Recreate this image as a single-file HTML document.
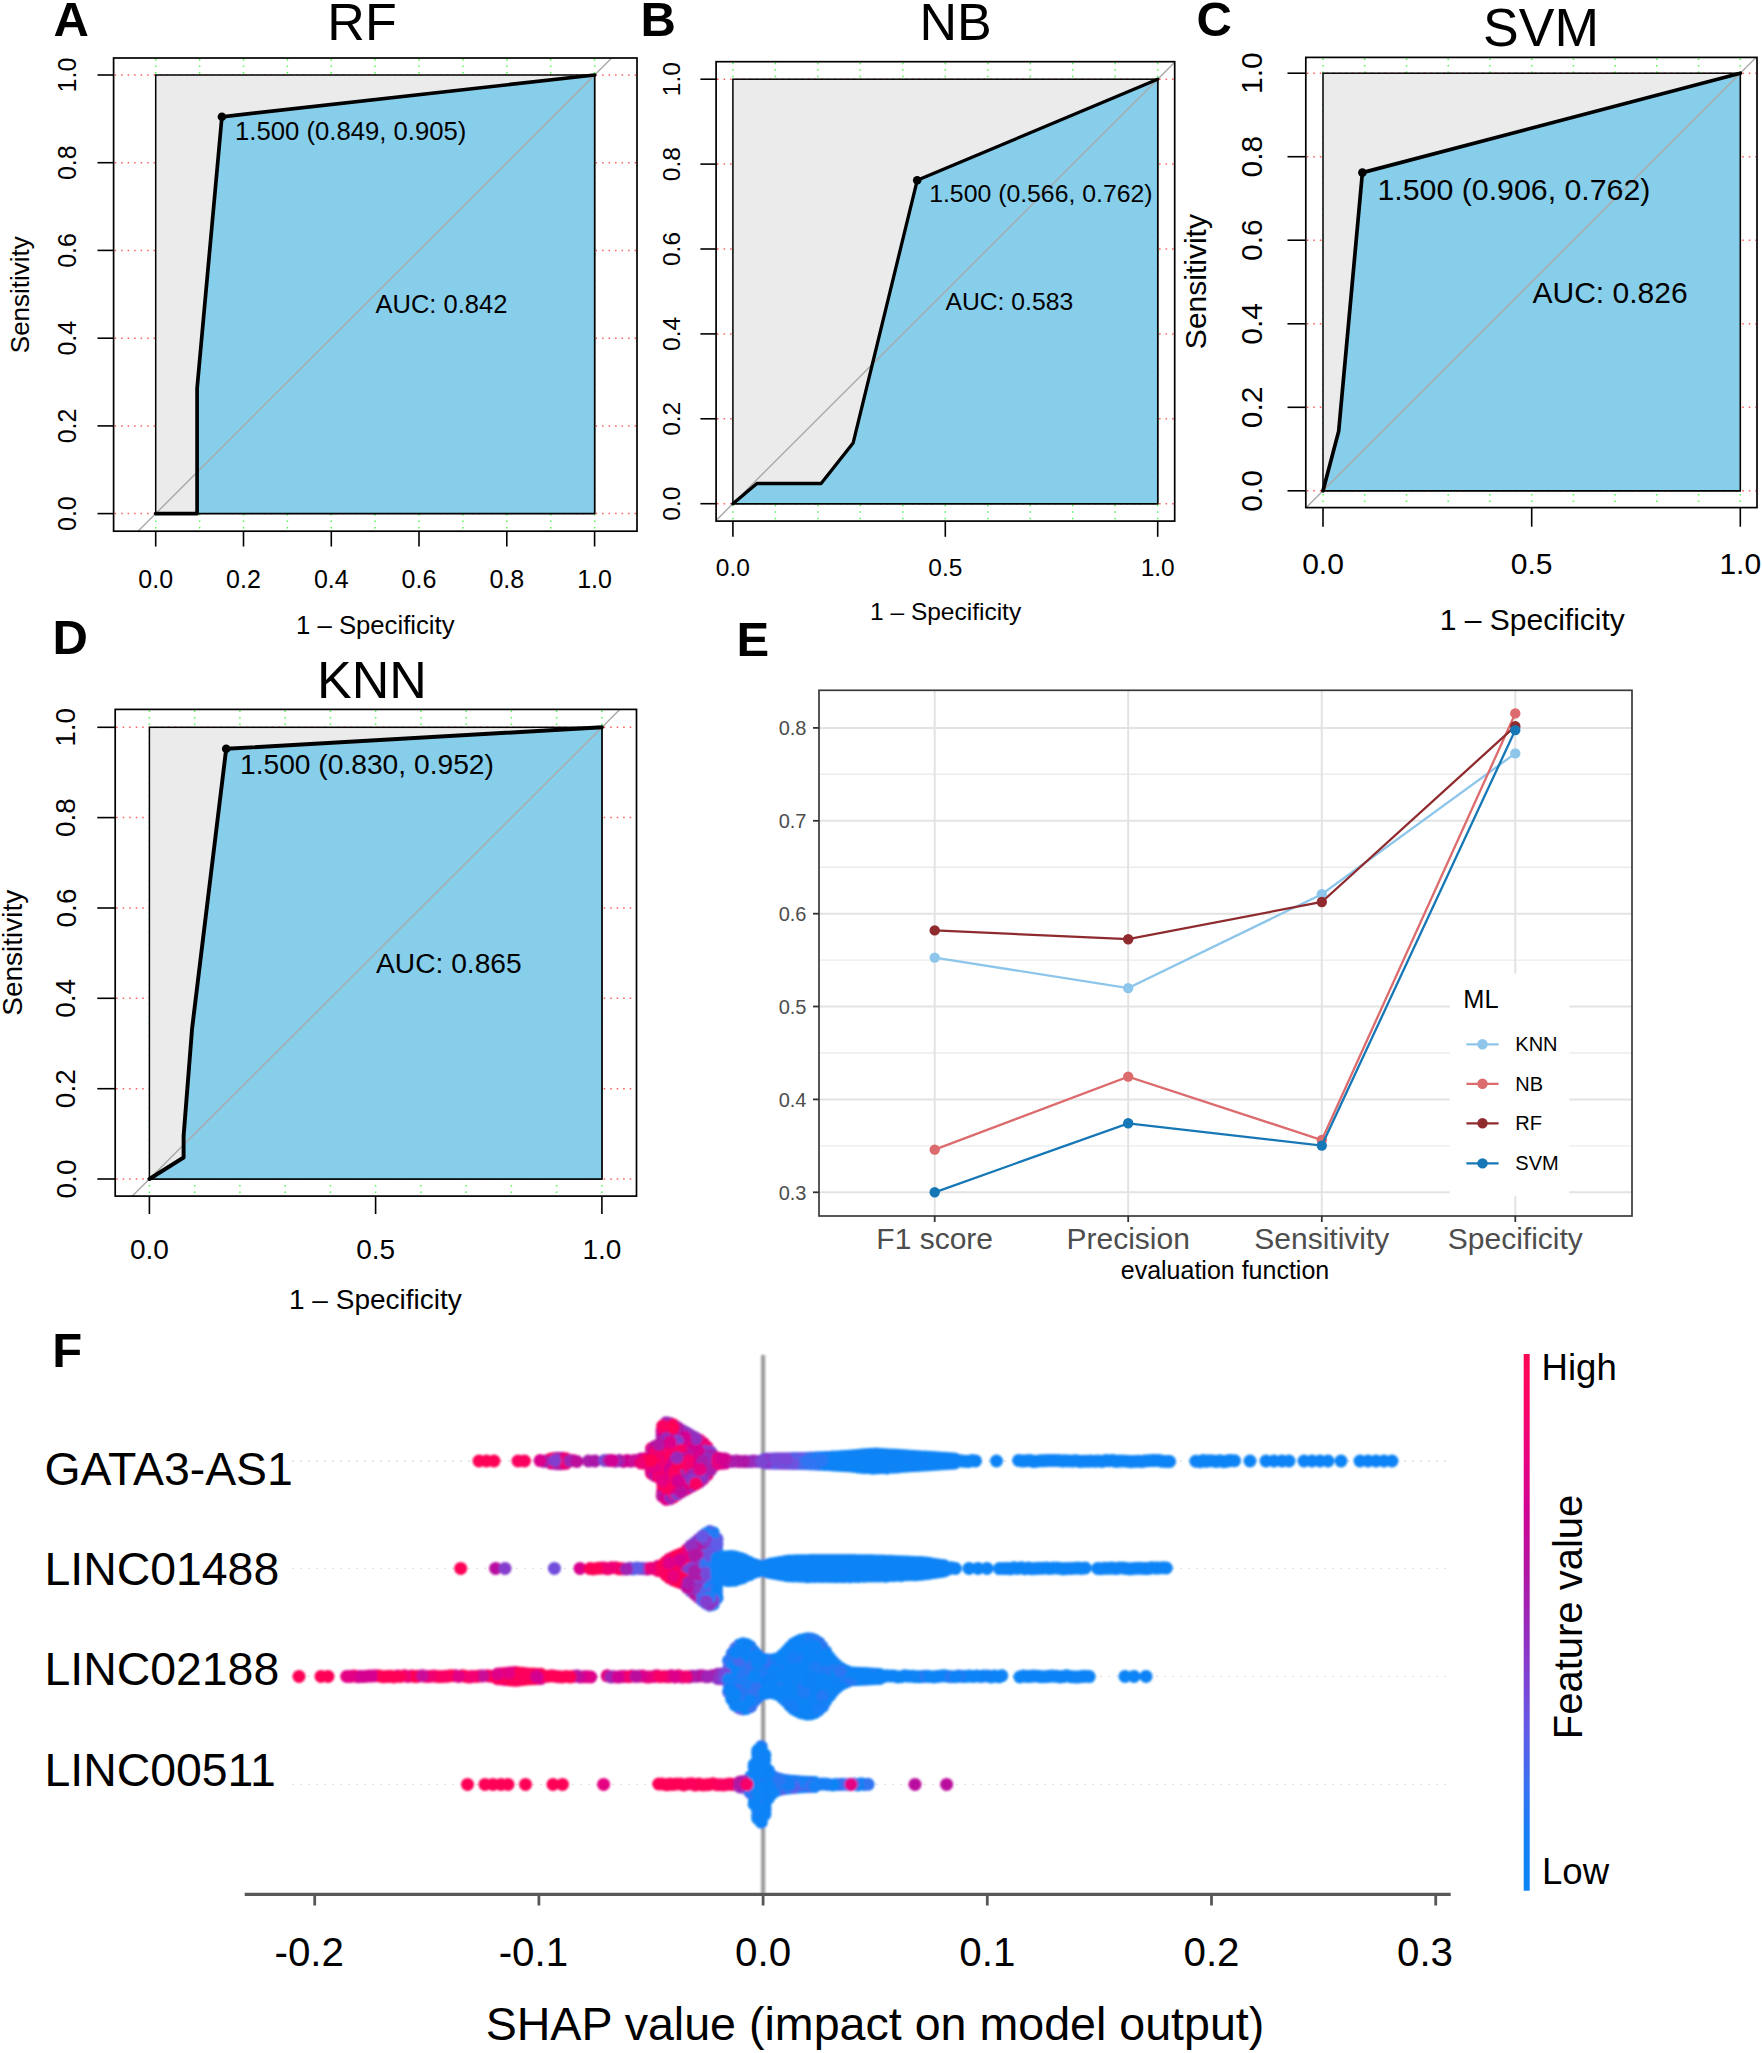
<!DOCTYPE html>
<html lang="en"><head><meta charset="utf-8"><title>Figure</title>
<style>
html,body{margin:0;padding:0;background:#fff;}
body{width:1762px;height:2053px;overflow:hidden;}
svg{display:block;font-family:'Liberation Sans', Arial, Helvetica, sans-serif;}
</style></head><body>
<svg width="1762" height="2053" viewBox="0 0 1762 2053">
<rect width="1762" height="2053" fill="#fff"/>
<text x="53.4" y="36.2" font-size="49" font-weight="bold" fill="#000">A</text>
<text x="640.5" y="36.2" font-size="49" font-weight="bold" fill="#000">B</text>
<text x="1196.5" y="36.2" font-size="49" font-weight="bold" fill="#000">C</text>
<text x="52.5" y="654.0" font-size="49" font-weight="bold" fill="#000">D</text>
<text x="736.5" y="656.0" font-size="49" font-weight="bold" fill="#000">E</text>
<text x="52.2" y="1367.4" font-size="49" font-weight="bold" fill="#000">F</text>
<g id="pA">
<clipPath id="cpA"><rect x="113.6" y="58.0" width="523.4" height="473.20000000000005"/></clipPath>
<line x1="114.6" y1="513.6" x2="636.0" y2="513.6" stroke="#ff5c5c" stroke-width="1.5" stroke-dasharray="1.5 5"/>
<line x1="114.6" y1="425.9" x2="636.0" y2="425.9" stroke="#ff5c5c" stroke-width="1.5" stroke-dasharray="1.5 5"/>
<line x1="114.6" y1="338.2" x2="636.0" y2="338.2" stroke="#ff5c5c" stroke-width="1.5" stroke-dasharray="1.5 5"/>
<line x1="114.6" y1="250.4" x2="636.0" y2="250.4" stroke="#ff5c5c" stroke-width="1.5" stroke-dasharray="1.5 5"/>
<line x1="114.6" y1="162.7" x2="636.0" y2="162.7" stroke="#ff5c5c" stroke-width="1.5" stroke-dasharray="1.5 5"/>
<line x1="114.6" y1="75.0" x2="636.0" y2="75.0" stroke="#ff5c5c" stroke-width="1.5" stroke-dasharray="1.5 5"/>
<line x1="155.7" y1="59.0" x2="155.7" y2="530.2" stroke="#55f755" stroke-width="1.5" stroke-dasharray="1.5 5"/>
<line x1="199.6" y1="59.0" x2="199.6" y2="530.2" stroke="#55f755" stroke-width="1.5" stroke-dasharray="1.5 5"/>
<line x1="243.5" y1="59.0" x2="243.5" y2="530.2" stroke="#55f755" stroke-width="1.5" stroke-dasharray="1.5 5"/>
<line x1="287.4" y1="59.0" x2="287.4" y2="530.2" stroke="#55f755" stroke-width="1.5" stroke-dasharray="1.5 5"/>
<line x1="331.3" y1="59.0" x2="331.3" y2="530.2" stroke="#55f755" stroke-width="1.5" stroke-dasharray="1.5 5"/>
<line x1="375.1" y1="59.0" x2="375.1" y2="530.2" stroke="#55f755" stroke-width="1.5" stroke-dasharray="1.5 5"/>
<line x1="419.0" y1="59.0" x2="419.0" y2="530.2" stroke="#55f755" stroke-width="1.5" stroke-dasharray="1.5 5"/>
<line x1="462.9" y1="59.0" x2="462.9" y2="530.2" stroke="#55f755" stroke-width="1.5" stroke-dasharray="1.5 5"/>
<line x1="506.8" y1="59.0" x2="506.8" y2="530.2" stroke="#55f755" stroke-width="1.5" stroke-dasharray="1.5 5"/>
<line x1="550.7" y1="59.0" x2="550.7" y2="530.2" stroke="#55f755" stroke-width="1.5" stroke-dasharray="1.5 5"/>
<line x1="594.6" y1="59.0" x2="594.6" y2="530.2" stroke="#55f755" stroke-width="1.5" stroke-dasharray="1.5 5"/>
<rect x="155.7" y="75.0" width="438.9" height="438.6" fill="#ebebeb" stroke="#000" stroke-width="1.5"/>
<polygon points="155.7,513.6 197.1,513.6 197.1,388.3 221.9,116.8 594.6,75.0 594.6,513.6" fill="#87ceeb" stroke="#000" stroke-width="1.5" stroke-linejoin="round"/>
<line x1="67.9" y1="601.3" x2="682.4" y2="-12.7" stroke="#a9a9a9" stroke-width="1.4" clip-path="url(#cpA)"/>
<polyline points="155.7,513.6 197.1,513.6 197.1,388.3 221.9,116.8 594.6,75.0" fill="none" stroke="#000" stroke-width="3.7" stroke-linejoin="round" stroke-linecap="round"/>
<circle cx="221.9" cy="116.8" r="4.3" fill="#000"/>
<rect x="113.6" y="58.0" width="523.4" height="473.2" fill="none" stroke="#000" stroke-width="1.7"/>
<line x1="97.5" y1="513.6" x2="113.6" y2="513.6" stroke="#000" stroke-width="1.6"/>
<text x="76.2" y="513.6" font-size="25" text-anchor="middle" fill="#000" transform="rotate(-90 76.2 513.6)">0.0</text>
<line x1="97.5" y1="425.9" x2="113.6" y2="425.9" stroke="#000" stroke-width="1.6"/>
<text x="76.2" y="425.9" font-size="25" text-anchor="middle" fill="#000" transform="rotate(-90 76.2 425.9)">0.2</text>
<line x1="97.5" y1="338.2" x2="113.6" y2="338.2" stroke="#000" stroke-width="1.6"/>
<text x="76.2" y="338.2" font-size="25" text-anchor="middle" fill="#000" transform="rotate(-90 76.2 338.2)">0.4</text>
<line x1="97.5" y1="250.4" x2="113.6" y2="250.4" stroke="#000" stroke-width="1.6"/>
<text x="76.2" y="250.4" font-size="25" text-anchor="middle" fill="#000" transform="rotate(-90 76.2 250.4)">0.6</text>
<line x1="97.5" y1="162.7" x2="113.6" y2="162.7" stroke="#000" stroke-width="1.6"/>
<text x="76.2" y="162.7" font-size="25" text-anchor="middle" fill="#000" transform="rotate(-90 76.2 162.7)">0.8</text>
<line x1="97.5" y1="75.0" x2="113.6" y2="75.0" stroke="#000" stroke-width="1.6"/>
<text x="76.2" y="75.0" font-size="25" text-anchor="middle" fill="#000" transform="rotate(-90 76.2 75.0)">1.0</text>
<line x1="155.7" y1="531.2" x2="155.7" y2="546.5" stroke="#000" stroke-width="1.6"/>
<text x="155.7" y="588.0" font-size="25" text-anchor="middle" fill="#000">0.0</text>
<line x1="243.5" y1="531.2" x2="243.5" y2="546.5" stroke="#000" stroke-width="1.6"/>
<text x="243.5" y="588.0" font-size="25" text-anchor="middle" fill="#000">0.2</text>
<line x1="331.3" y1="531.2" x2="331.3" y2="546.5" stroke="#000" stroke-width="1.6"/>
<text x="331.3" y="588.0" font-size="25" text-anchor="middle" fill="#000">0.4</text>
<line x1="419.0" y1="531.2" x2="419.0" y2="546.5" stroke="#000" stroke-width="1.6"/>
<text x="419.0" y="588.0" font-size="25" text-anchor="middle" fill="#000">0.6</text>
<line x1="506.8" y1="531.2" x2="506.8" y2="546.5" stroke="#000" stroke-width="1.6"/>
<text x="506.8" y="588.0" font-size="25" text-anchor="middle" fill="#000">0.8</text>
<line x1="594.6" y1="531.2" x2="594.6" y2="546.5" stroke="#000" stroke-width="1.6"/>
<text x="594.6" y="588.0" font-size="25" text-anchor="middle" fill="#000">1.0</text>
<text x="375.3" y="633.6" font-size="25.7" text-anchor="middle" fill="#000">1 – Specificity</text>
<text x="29.5" y="294.7" font-size="26" text-anchor="middle" fill="#000" transform="rotate(-90 29.5 294.7)">Sensitivity</text>
<text x="362.0" y="40.0" font-size="52" text-anchor="middle" fill="#000">RF</text>
<text x="235.0" y="139.8" font-size="25.7" fill="#000">1.500 (0.849, 0.905)</text>
<text x="375.5" y="312.6" font-size="25.5" fill="#000">AUC: 0.842</text>
</g>
<g id="pB">
<clipPath id="cpB"><rect x="716.1" y="61.7" width="458.6" height="459.40000000000003"/></clipPath>
<line x1="717.1" y1="503.7" x2="1173.7" y2="503.7" stroke="#ff5c5c" stroke-width="1.5" stroke-dasharray="1.5 5"/>
<line x1="717.1" y1="418.8" x2="1173.7" y2="418.8" stroke="#ff5c5c" stroke-width="1.5" stroke-dasharray="1.5 5"/>
<line x1="717.1" y1="333.9" x2="1173.7" y2="333.9" stroke="#ff5c5c" stroke-width="1.5" stroke-dasharray="1.5 5"/>
<line x1="717.1" y1="249.0" x2="1173.7" y2="249.0" stroke="#ff5c5c" stroke-width="1.5" stroke-dasharray="1.5 5"/>
<line x1="717.1" y1="164.1" x2="1173.7" y2="164.1" stroke="#ff5c5c" stroke-width="1.5" stroke-dasharray="1.5 5"/>
<line x1="717.1" y1="79.2" x2="1173.7" y2="79.2" stroke="#ff5c5c" stroke-width="1.5" stroke-dasharray="1.5 5"/>
<line x1="732.9" y1="62.7" x2="732.9" y2="520.1" stroke="#55f755" stroke-width="1.5" stroke-dasharray="1.5 5"/>
<line x1="775.4" y1="62.7" x2="775.4" y2="520.1" stroke="#55f755" stroke-width="1.5" stroke-dasharray="1.5 5"/>
<line x1="817.9" y1="62.7" x2="817.9" y2="520.1" stroke="#55f755" stroke-width="1.5" stroke-dasharray="1.5 5"/>
<line x1="860.3" y1="62.7" x2="860.3" y2="520.1" stroke="#55f755" stroke-width="1.5" stroke-dasharray="1.5 5"/>
<line x1="902.8" y1="62.7" x2="902.8" y2="520.1" stroke="#55f755" stroke-width="1.5" stroke-dasharray="1.5 5"/>
<line x1="945.3" y1="62.7" x2="945.3" y2="520.1" stroke="#55f755" stroke-width="1.5" stroke-dasharray="1.5 5"/>
<line x1="987.8" y1="62.7" x2="987.8" y2="520.1" stroke="#55f755" stroke-width="1.5" stroke-dasharray="1.5 5"/>
<line x1="1030.3" y1="62.7" x2="1030.3" y2="520.1" stroke="#55f755" stroke-width="1.5" stroke-dasharray="1.5 5"/>
<line x1="1072.7" y1="62.7" x2="1072.7" y2="520.1" stroke="#55f755" stroke-width="1.5" stroke-dasharray="1.5 5"/>
<line x1="1115.2" y1="62.7" x2="1115.2" y2="520.1" stroke="#55f755" stroke-width="1.5" stroke-dasharray="1.5 5"/>
<line x1="1157.7" y1="62.7" x2="1157.7" y2="520.1" stroke="#55f755" stroke-width="1.5" stroke-dasharray="1.5 5"/>
<rect x="732.9" y="79.2" width="424.8" height="424.5" fill="#ebebeb" stroke="#000" stroke-width="1.5"/>
<polygon points="732.9,503.7 756.9,483.5 821.1,483.5 853.1,443.1 917.2,180.3 1157.7,79.2 1157.7,503.7" fill="#87ceeb" stroke="#000" stroke-width="1.5" stroke-linejoin="round"/>
<line x1="647.9" y1="588.6" x2="1242.7" y2="-5.7" stroke="#a9a9a9" stroke-width="1.4" clip-path="url(#cpB)"/>
<polyline points="732.9,503.7 756.9,483.5 821.1,483.5 853.1,443.1 917.2,180.3 1157.7,79.2" fill="none" stroke="#000" stroke-width="3.3" stroke-linejoin="round" stroke-linecap="round"/>
<circle cx="917.2" cy="180.3" r="4.3" fill="#000"/>
<rect x="716.1" y="61.7" width="458.6" height="459.4" fill="none" stroke="#000" stroke-width="1.7"/>
<line x1="700.4" y1="503.7" x2="716.1" y2="503.7" stroke="#000" stroke-width="1.6"/>
<text x="680.0" y="503.7" font-size="24.5" text-anchor="middle" fill="#000" transform="rotate(-90 680.0 503.7)">0.0</text>
<line x1="700.4" y1="418.8" x2="716.1" y2="418.8" stroke="#000" stroke-width="1.6"/>
<text x="680.0" y="418.8" font-size="24.5" text-anchor="middle" fill="#000" transform="rotate(-90 680.0 418.8)">0.2</text>
<line x1="700.4" y1="333.9" x2="716.1" y2="333.9" stroke="#000" stroke-width="1.6"/>
<text x="680.0" y="333.9" font-size="24.5" text-anchor="middle" fill="#000" transform="rotate(-90 680.0 333.9)">0.4</text>
<line x1="700.4" y1="249.0" x2="716.1" y2="249.0" stroke="#000" stroke-width="1.6"/>
<text x="680.0" y="249.0" font-size="24.5" text-anchor="middle" fill="#000" transform="rotate(-90 680.0 249.0)">0.6</text>
<line x1="700.4" y1="164.1" x2="716.1" y2="164.1" stroke="#000" stroke-width="1.6"/>
<text x="680.0" y="164.1" font-size="24.5" text-anchor="middle" fill="#000" transform="rotate(-90 680.0 164.1)">0.8</text>
<line x1="700.4" y1="79.2" x2="716.1" y2="79.2" stroke="#000" stroke-width="1.6"/>
<text x="680.0" y="79.2" font-size="24.5" text-anchor="middle" fill="#000" transform="rotate(-90 680.0 79.2)">1.0</text>
<line x1="732.9" y1="521.1" x2="732.9" y2="536.8" stroke="#000" stroke-width="1.6"/>
<text x="732.9" y="576.0" font-size="24.5" text-anchor="middle" fill="#000">0.0</text>
<line x1="945.3" y1="521.1" x2="945.3" y2="536.8" stroke="#000" stroke-width="1.6"/>
<text x="945.3" y="576.0" font-size="24.5" text-anchor="middle" fill="#000">0.5</text>
<line x1="1157.7" y1="521.1" x2="1157.7" y2="536.8" stroke="#000" stroke-width="1.6"/>
<text x="1157.7" y="576.0" font-size="24.5" text-anchor="middle" fill="#000">1.0</text>
<text x="945.6" y="620.2" font-size="24.5" text-anchor="middle" fill="#000">1 – Specificity</text>
<text x="955.5" y="40.0" font-size="52" text-anchor="middle" fill="#000">NB</text>
<text x="929.2" y="201.8" font-size="24.8" fill="#000">1.500 (0.566, 0.762)</text>
<text x="945.5" y="309.6" font-size="24.7" fill="#000">AUC: 0.583</text>
</g>
<g id="pC">
<clipPath id="cpC"><rect x="1305.8" y="57.4" width="451.20000000000005" height="450.20000000000005"/></clipPath>
<line x1="1306.8" y1="490.8" x2="1756.0" y2="490.8" stroke="#ff5c5c" stroke-width="1.5" stroke-dasharray="1.5 5"/>
<line x1="1306.8" y1="407.3" x2="1756.0" y2="407.3" stroke="#ff5c5c" stroke-width="1.5" stroke-dasharray="1.5 5"/>
<line x1="1306.8" y1="323.8" x2="1756.0" y2="323.8" stroke="#ff5c5c" stroke-width="1.5" stroke-dasharray="1.5 5"/>
<line x1="1306.8" y1="240.2" x2="1756.0" y2="240.2" stroke="#ff5c5c" stroke-width="1.5" stroke-dasharray="1.5 5"/>
<line x1="1306.8" y1="156.7" x2="1756.0" y2="156.7" stroke="#ff5c5c" stroke-width="1.5" stroke-dasharray="1.5 5"/>
<line x1="1306.8" y1="73.2" x2="1756.0" y2="73.2" stroke="#ff5c5c" stroke-width="1.5" stroke-dasharray="1.5 5"/>
<line x1="1323.0" y1="58.4" x2="1323.0" y2="506.6" stroke="#55f755" stroke-width="1.5" stroke-dasharray="1.5 5"/>
<line x1="1364.7" y1="58.4" x2="1364.7" y2="506.6" stroke="#55f755" stroke-width="1.5" stroke-dasharray="1.5 5"/>
<line x1="1406.5" y1="58.4" x2="1406.5" y2="506.6" stroke="#55f755" stroke-width="1.5" stroke-dasharray="1.5 5"/>
<line x1="1448.2" y1="58.4" x2="1448.2" y2="506.6" stroke="#55f755" stroke-width="1.5" stroke-dasharray="1.5 5"/>
<line x1="1489.9" y1="58.4" x2="1489.9" y2="506.6" stroke="#55f755" stroke-width="1.5" stroke-dasharray="1.5 5"/>
<line x1="1531.7" y1="58.4" x2="1531.7" y2="506.6" stroke="#55f755" stroke-width="1.5" stroke-dasharray="1.5 5"/>
<line x1="1573.4" y1="58.4" x2="1573.4" y2="506.6" stroke="#55f755" stroke-width="1.5" stroke-dasharray="1.5 5"/>
<line x1="1615.1" y1="58.4" x2="1615.1" y2="506.6" stroke="#55f755" stroke-width="1.5" stroke-dasharray="1.5 5"/>
<line x1="1656.8" y1="58.4" x2="1656.8" y2="506.6" stroke="#55f755" stroke-width="1.5" stroke-dasharray="1.5 5"/>
<line x1="1698.6" y1="58.4" x2="1698.6" y2="506.6" stroke="#55f755" stroke-width="1.5" stroke-dasharray="1.5 5"/>
<line x1="1740.3" y1="58.4" x2="1740.3" y2="506.6" stroke="#55f755" stroke-width="1.5" stroke-dasharray="1.5 5"/>
<rect x="1323.0" y="73.2" width="417.3" height="417.6" fill="#ebebeb" stroke="#000" stroke-width="1.5"/>
<polygon points="1323.0,490.8 1338.7,431.1 1362.4,172.6 1740.3,73.2 1740.3,490.8" fill="#87ceeb" stroke="#000" stroke-width="1.5" stroke-linejoin="round"/>
<line x1="1239.5" y1="574.3" x2="1823.8" y2="-10.3" stroke="#a9a9a9" stroke-width="1.4" clip-path="url(#cpC)"/>
<polyline points="1323.0,490.8 1338.7,431.1 1362.4,172.6 1740.3,73.2" fill="none" stroke="#000" stroke-width="3.7" stroke-linejoin="round" stroke-linecap="round"/>
<circle cx="1362.4" cy="172.6" r="4.3" fill="#000"/>
<rect x="1305.8" y="57.4" width="451.2" height="450.2" fill="none" stroke="#000" stroke-width="1.7"/>
<line x1="1287.5" y1="490.8" x2="1305.8" y2="490.8" stroke="#000" stroke-width="1.6"/>
<text x="1262.0" y="490.8" font-size="30" text-anchor="middle" fill="#000" transform="rotate(-90 1262.0 490.8)">0.0</text>
<line x1="1287.5" y1="407.3" x2="1305.8" y2="407.3" stroke="#000" stroke-width="1.6"/>
<text x="1262.0" y="407.3" font-size="30" text-anchor="middle" fill="#000" transform="rotate(-90 1262.0 407.3)">0.2</text>
<line x1="1287.5" y1="323.8" x2="1305.8" y2="323.8" stroke="#000" stroke-width="1.6"/>
<text x="1262.0" y="323.8" font-size="30" text-anchor="middle" fill="#000" transform="rotate(-90 1262.0 323.8)">0.4</text>
<line x1="1287.5" y1="240.2" x2="1305.8" y2="240.2" stroke="#000" stroke-width="1.6"/>
<text x="1262.0" y="240.2" font-size="30" text-anchor="middle" fill="#000" transform="rotate(-90 1262.0 240.2)">0.6</text>
<line x1="1287.5" y1="156.7" x2="1305.8" y2="156.7" stroke="#000" stroke-width="1.6"/>
<text x="1262.0" y="156.7" font-size="30" text-anchor="middle" fill="#000" transform="rotate(-90 1262.0 156.7)">0.8</text>
<line x1="1287.5" y1="73.2" x2="1305.8" y2="73.2" stroke="#000" stroke-width="1.6"/>
<text x="1262.0" y="73.2" font-size="30" text-anchor="middle" fill="#000" transform="rotate(-90 1262.0 73.2)">1.0</text>
<line x1="1323.0" y1="507.6" x2="1323.0" y2="526.7" stroke="#000" stroke-width="1.6"/>
<text x="1323.0" y="573.7" font-size="30" text-anchor="middle" fill="#000">0.0</text>
<line x1="1531.7" y1="507.6" x2="1531.7" y2="526.7" stroke="#000" stroke-width="1.6"/>
<text x="1531.7" y="573.7" font-size="30" text-anchor="middle" fill="#000">0.5</text>
<line x1="1740.3" y1="507.6" x2="1740.3" y2="526.7" stroke="#000" stroke-width="1.6"/>
<text x="1740.3" y="573.7" font-size="30" text-anchor="middle" fill="#000">1.0</text>
<text x="1532.3" y="629.9" font-size="30" text-anchor="middle" fill="#000">1 – Specificity</text>
<text x="1206.0" y="281.6" font-size="30" text-anchor="middle" fill="#000" transform="rotate(-90 1206.0 281.6)">Sensitivity</text>
<text x="1541.0" y="46.3" font-size="53.5" text-anchor="middle" fill="#000">SVM</text>
<text x="1377.5" y="199.8" font-size="30.3" fill="#000">1.500 (0.906, 0.762)</text>
<text x="1532.5" y="303.4" font-size="30" fill="#000">AUC: 0.826</text>
</g>
<g id="pD">
<clipPath id="cpD"><rect x="115.2" y="709.4" width="521.3" height="486.69999999999993"/></clipPath>
<line x1="116.2" y1="1179.0" x2="635.5" y2="1179.0" stroke="#ff5c5c" stroke-width="1.5" stroke-dasharray="1.5 5"/>
<line x1="116.2" y1="1088.7" x2="635.5" y2="1088.7" stroke="#ff5c5c" stroke-width="1.5" stroke-dasharray="1.5 5"/>
<line x1="116.2" y1="998.3" x2="635.5" y2="998.3" stroke="#ff5c5c" stroke-width="1.5" stroke-dasharray="1.5 5"/>
<line x1="116.2" y1="908.0" x2="635.5" y2="908.0" stroke="#ff5c5c" stroke-width="1.5" stroke-dasharray="1.5 5"/>
<line x1="116.2" y1="817.6" x2="635.5" y2="817.6" stroke="#ff5c5c" stroke-width="1.5" stroke-dasharray="1.5 5"/>
<line x1="116.2" y1="727.3" x2="635.5" y2="727.3" stroke="#ff5c5c" stroke-width="1.5" stroke-dasharray="1.5 5"/>
<line x1="149.4" y1="710.4" x2="149.4" y2="1195.1" stroke="#55f755" stroke-width="1.5" stroke-dasharray="1.5 5"/>
<line x1="194.7" y1="710.4" x2="194.7" y2="1195.1" stroke="#55f755" stroke-width="1.5" stroke-dasharray="1.5 5"/>
<line x1="239.9" y1="710.4" x2="239.9" y2="1195.1" stroke="#55f755" stroke-width="1.5" stroke-dasharray="1.5 5"/>
<line x1="285.2" y1="710.4" x2="285.2" y2="1195.1" stroke="#55f755" stroke-width="1.5" stroke-dasharray="1.5 5"/>
<line x1="330.4" y1="710.4" x2="330.4" y2="1195.1" stroke="#55f755" stroke-width="1.5" stroke-dasharray="1.5 5"/>
<line x1="375.6" y1="710.4" x2="375.6" y2="1195.1" stroke="#55f755" stroke-width="1.5" stroke-dasharray="1.5 5"/>
<line x1="420.9" y1="710.4" x2="420.9" y2="1195.1" stroke="#55f755" stroke-width="1.5" stroke-dasharray="1.5 5"/>
<line x1="466.2" y1="710.4" x2="466.2" y2="1195.1" stroke="#55f755" stroke-width="1.5" stroke-dasharray="1.5 5"/>
<line x1="511.4" y1="710.4" x2="511.4" y2="1195.1" stroke="#55f755" stroke-width="1.5" stroke-dasharray="1.5 5"/>
<line x1="556.6" y1="710.4" x2="556.6" y2="1195.1" stroke="#55f755" stroke-width="1.5" stroke-dasharray="1.5 5"/>
<line x1="601.9" y1="710.4" x2="601.9" y2="1195.1" stroke="#55f755" stroke-width="1.5" stroke-dasharray="1.5 5"/>
<rect x="149.4" y="727.3" width="452.5" height="451.7" fill="#ebebeb" stroke="#000" stroke-width="1.5"/>
<polygon points="149.4,1179.0 183.6,1157.5 183.6,1136.0 192.1,1028.4 226.2,748.8 601.9,727.3 601.9,1179.0" fill="#87ceeb" stroke="#000" stroke-width="1.5" stroke-linejoin="round"/>
<line x1="58.9" y1="1269.3" x2="692.4" y2="637.0" stroke="#a9a9a9" stroke-width="1.4" clip-path="url(#cpD)"/>
<polyline points="149.4,1179.0 183.6,1157.5 183.6,1136.0 192.1,1028.4 226.2,748.8 601.9,727.3" fill="none" stroke="#000" stroke-width="3.9" stroke-linejoin="round" stroke-linecap="round"/>
<circle cx="226.2" cy="748.8" r="4.3" fill="#000"/>
<rect x="115.2" y="709.4" width="521.3" height="486.7" fill="none" stroke="#000" stroke-width="1.7"/>
<line x1="97.3" y1="1179.0" x2="115.2" y2="1179.0" stroke="#000" stroke-width="1.6"/>
<text x="75.5" y="1179.0" font-size="28" text-anchor="middle" fill="#000" transform="rotate(-90 75.5 1179.0)">0.0</text>
<line x1="97.3" y1="1088.7" x2="115.2" y2="1088.7" stroke="#000" stroke-width="1.6"/>
<text x="75.5" y="1088.7" font-size="28" text-anchor="middle" fill="#000" transform="rotate(-90 75.5 1088.7)">0.2</text>
<line x1="97.3" y1="998.3" x2="115.2" y2="998.3" stroke="#000" stroke-width="1.6"/>
<text x="75.5" y="998.3" font-size="28" text-anchor="middle" fill="#000" transform="rotate(-90 75.5 998.3)">0.4</text>
<line x1="97.3" y1="908.0" x2="115.2" y2="908.0" stroke="#000" stroke-width="1.6"/>
<text x="75.5" y="908.0" font-size="28" text-anchor="middle" fill="#000" transform="rotate(-90 75.5 908.0)">0.6</text>
<line x1="97.3" y1="817.6" x2="115.2" y2="817.6" stroke="#000" stroke-width="1.6"/>
<text x="75.5" y="817.6" font-size="28" text-anchor="middle" fill="#000" transform="rotate(-90 75.5 817.6)">0.8</text>
<line x1="97.3" y1="727.3" x2="115.2" y2="727.3" stroke="#000" stroke-width="1.6"/>
<text x="75.5" y="727.3" font-size="28" text-anchor="middle" fill="#000" transform="rotate(-90 75.5 727.3)">1.0</text>
<line x1="149.4" y1="1196.1" x2="149.4" y2="1214.0" stroke="#000" stroke-width="1.6"/>
<text x="149.4" y="1258.9" font-size="28" text-anchor="middle" fill="#000">0.0</text>
<line x1="375.6" y1="1196.1" x2="375.6" y2="1214.0" stroke="#000" stroke-width="1.6"/>
<text x="375.6" y="1258.9" font-size="28" text-anchor="middle" fill="#000">0.5</text>
<line x1="601.9" y1="1196.1" x2="601.9" y2="1214.0" stroke="#000" stroke-width="1.6"/>
<text x="601.9" y="1258.9" font-size="28" text-anchor="middle" fill="#000">1.0</text>
<text x="375.4" y="1309.3" font-size="28" text-anchor="middle" fill="#000">1 – Specificity</text>
<text x="22.0" y="952.7" font-size="28" text-anchor="middle" fill="#000" transform="rotate(-90 22.0 952.7)">Sensitivity</text>
<text x="371.9" y="697.5" font-size="52" text-anchor="middle" fill="#000">KNN</text>
<text x="240.0" y="774.2" font-size="28.2" fill="#000">1.500 (0.830, 0.952)</text>
<text x="376.0" y="972.8" font-size="28.2" fill="#000">AUC: 0.865</text>
</g>
<g id="pE">
<rect x="819" y="690.3" width="813" height="525.7" fill="#fff"/>
<line x1="819" y1="1145.9" x2="1632" y2="1145.9" stroke="#ebebeb" stroke-width="1.4"/>
<line x1="819" y1="1053.0" x2="1632" y2="1053.0" stroke="#ebebeb" stroke-width="1.4"/>
<line x1="819" y1="960.1" x2="1632" y2="960.1" stroke="#ebebeb" stroke-width="1.4"/>
<line x1="819" y1="867.2" x2="1632" y2="867.2" stroke="#ebebeb" stroke-width="1.4"/>
<line x1="819" y1="774.3" x2="1632" y2="774.3" stroke="#ebebeb" stroke-width="1.4"/>
<line x1="819" y1="1192.3" x2="1632" y2="1192.3" stroke="#e3e3e3" stroke-width="2"/>
<line x1="819" y1="1099.4" x2="1632" y2="1099.4" stroke="#e3e3e3" stroke-width="2"/>
<line x1="819" y1="1006.5" x2="1632" y2="1006.5" stroke="#e3e3e3" stroke-width="2"/>
<line x1="819" y1="913.7" x2="1632" y2="913.7" stroke="#e3e3e3" stroke-width="2"/>
<line x1="819" y1="820.8" x2="1632" y2="820.8" stroke="#e3e3e3" stroke-width="2"/>
<line x1="819" y1="727.9" x2="1632" y2="727.9" stroke="#e3e3e3" stroke-width="2"/>
<line x1="934.7" y1="690.3" x2="934.7" y2="1216" stroke="#e3e3e3" stroke-width="2"/>
<line x1="1128.2" y1="690.3" x2="1128.2" y2="1216" stroke="#e3e3e3" stroke-width="2"/>
<line x1="1321.8" y1="690.3" x2="1321.8" y2="1216" stroke="#e3e3e3" stroke-width="2"/>
<line x1="1515.3" y1="690.3" x2="1515.3" y2="1216" stroke="#e3e3e3" stroke-width="2"/>
<polyline points="934.7,957.6 1128.2,988.1 1321.8,894.2 1515.3,753.4" fill="none" stroke="#8dc6ea" stroke-width="2.3"/>
<circle cx="934.7" cy="957.6" r="5.2" fill="#8dc6ea"/>
<circle cx="1128.2" cy="988.1" r="5.2" fill="#8dc6ea"/>
<circle cx="1321.8" cy="894.2" r="5.2" fill="#8dc6ea"/>
<circle cx="1515.3" cy="753.4" r="5.2" fill="#8dc6ea"/>
<polyline points="934.7,1149.6 1128.2,1076.6 1321.8,1140.0 1515.3,713.4" fill="none" stroke="#dc6b6d" stroke-width="2.3"/>
<circle cx="934.7" cy="1149.6" r="5.2" fill="#dc6b6d"/>
<circle cx="1128.2" cy="1076.6" r="5.2" fill="#dc6b6d"/>
<circle cx="1321.8" cy="1140.0" r="5.2" fill="#dc6b6d"/>
<circle cx="1515.3" cy="713.4" r="5.2" fill="#dc6b6d"/>
<polyline points="934.7,930.4 1128.2,939.2 1321.8,902.0 1515.3,726.2" fill="none" stroke="#8f2b2e" stroke-width="2.3"/>
<circle cx="934.7" cy="930.4" r="5.2" fill="#8f2b2e"/>
<circle cx="1128.2" cy="939.2" r="5.2" fill="#8f2b2e"/>
<circle cx="1321.8" cy="902.0" r="5.2" fill="#8f2b2e"/>
<circle cx="1515.3" cy="726.2" r="5.2" fill="#8f2b2e"/>
<polyline points="934.7,1192.3 1128.2,1123.3 1321.8,1145.6 1515.3,730.1" fill="none" stroke="#1577b5" stroke-width="2.3"/>
<circle cx="934.7" cy="1192.3" r="5.2" fill="#1577b5"/>
<circle cx="1128.2" cy="1123.3" r="5.2" fill="#1577b5"/>
<circle cx="1321.8" cy="1145.6" r="5.2" fill="#1577b5"/>
<circle cx="1515.3" cy="730.1" r="5.2" fill="#1577b5"/>
<rect x="1449.7" y="973.7" width="119.6" height="222.5" fill="#fff"/>
<text x="1463.3" y="1008.2" font-size="25.4" fill="#000">ML</text>
<line x1="1466.4" y1="1044.3" x2="1498.6" y2="1044.3" stroke="#8dc6ea" stroke-width="2.3"/>
<circle cx="1482.5" cy="1044.3" r="5.2" fill="#8dc6ea"/>
<text x="1515.3" y="1051.3" font-size="20" fill="#000">KNN</text>
<line x1="1466.4" y1="1083.8" x2="1498.6" y2="1083.8" stroke="#dc6b6d" stroke-width="2.3"/>
<circle cx="1482.5" cy="1083.8" r="5.2" fill="#dc6b6d"/>
<text x="1515.3" y="1090.8" font-size="20" fill="#000">NB</text>
<line x1="1466.4" y1="1123.3" x2="1498.6" y2="1123.3" stroke="#8f2b2e" stroke-width="2.3"/>
<circle cx="1482.5" cy="1123.3" r="5.2" fill="#8f2b2e"/>
<text x="1515.3" y="1130.3" font-size="20" fill="#000">RF</text>
<line x1="1466.4" y1="1163.4" x2="1498.6" y2="1163.4" stroke="#1577b5" stroke-width="2.3"/>
<circle cx="1482.5" cy="1163.4" r="5.2" fill="#1577b5"/>
<text x="1515.3" y="1170.4" font-size="20" fill="#000">SVM</text>
<rect x="819" y="690.3" width="813" height="525.7" fill="none" stroke="#3a3a3a" stroke-width="1.7"/>
<line x1="813" y1="1192.3" x2="819" y2="1192.3" stroke="#333" stroke-width="1.8"/>
<text x="806.5" y="1199.5" font-size="20" text-anchor="end" fill="#4d4d4d">0.3</text>
<line x1="813" y1="1099.4" x2="819" y2="1099.4" stroke="#333" stroke-width="1.8"/>
<text x="806.5" y="1106.6" font-size="20" text-anchor="end" fill="#4d4d4d">0.4</text>
<line x1="813" y1="1006.5" x2="819" y2="1006.5" stroke="#333" stroke-width="1.8"/>
<text x="806.5" y="1013.7" font-size="20" text-anchor="end" fill="#4d4d4d">0.5</text>
<line x1="813" y1="913.7" x2="819" y2="913.7" stroke="#333" stroke-width="1.8"/>
<text x="806.5" y="920.9" font-size="20" text-anchor="end" fill="#4d4d4d">0.6</text>
<line x1="813" y1="820.8" x2="819" y2="820.8" stroke="#333" stroke-width="1.8"/>
<text x="806.5" y="828.0" font-size="20" text-anchor="end" fill="#4d4d4d">0.7</text>
<line x1="813" y1="727.9" x2="819" y2="727.9" stroke="#333" stroke-width="1.8"/>
<text x="806.5" y="735.1" font-size="20" text-anchor="end" fill="#4d4d4d">0.8</text>
<line x1="934.7" y1="1216" x2="934.7" y2="1222" stroke="#333" stroke-width="1.8"/>
<text x="934.7" y="1249.0" font-size="30" text-anchor="middle" fill="#4d4d4d">F1 score</text>
<line x1="1128.2" y1="1216" x2="1128.2" y2="1222" stroke="#333" stroke-width="1.8"/>
<text x="1128.2" y="1249.0" font-size="30" text-anchor="middle" fill="#4d4d4d">Precision</text>
<line x1="1321.8" y1="1216" x2="1321.8" y2="1222" stroke="#333" stroke-width="1.8"/>
<text x="1321.8" y="1249.0" font-size="30" text-anchor="middle" fill="#4d4d4d">Sensitivity</text>
<line x1="1515.3" y1="1216" x2="1515.3" y2="1222" stroke="#333" stroke-width="1.8"/>
<text x="1515.3" y="1249.0" font-size="30" text-anchor="middle" fill="#4d4d4d">Specificity</text>
<text x="1225.0" y="1278.5" font-size="25" text-anchor="middle" fill="#000">evaluation function</text>
</g>
<g id="pF">
<defs><linearGradient id="cb" x1="0" y1="1" x2="0" y2="0"><stop offset="0.0" stop-color="#0a84f5"/><stop offset="0.1" stop-color="#1480f6"/><stop offset="0.2" stop-color="#3a70f0"/><stop offset="0.3" stop-color="#625ae6"/><stop offset="0.4" stop-color="#8041d2"/><stop offset="0.5" stop-color="#9928ba"/><stop offset="0.6" stop-color="#b214a2"/><stop offset="0.7" stop-color="#ce0696"/><stop offset="0.8" stop-color="#e60282"/><stop offset="0.9" stop-color="#f80469"/><stop offset="1.0" stop-color="#fe0654"/></linearGradient><filter id="bl" x="-5%" y="-5%" width="110%" height="110%"><feGaussianBlur stdDeviation="1.0"/></filter></defs>
<line x1="292" y1="1461" x2="1450" y2="1461" stroke="#e2e2e2" stroke-width="1.4" stroke-dasharray="2 6"/>
<line x1="292" y1="1568.4" x2="1450" y2="1568.4" stroke="#e2e2e2" stroke-width="1.4" stroke-dasharray="2 6"/>
<line x1="292" y1="1676.4" x2="1450" y2="1676.4" stroke="#e2e2e2" stroke-width="1.4" stroke-dasharray="2 6"/>
<line x1="292" y1="1784.4" x2="1450" y2="1784.4" stroke="#e2e2e2" stroke-width="1.4" stroke-dasharray="2 6"/>
<g filter="url(#bl)">
<line x1="763.1" y1="1355" x2="763.1" y2="1894" stroke="#9c9c9c" stroke-width="4.2"/>
<circle cx="479.0" cy="1461.0" r="6.5" fill="#fe0655"/><circle cx="486.5" cy="1461.0" r="6.5" fill="#fe0654"/><circle cx="494.0" cy="1461.0" r="6.5" fill="#fe0654"/><circle cx="518.0" cy="1461.0" r="6.5" fill="#fb055f"/><circle cx="524.5" cy="1461.0" r="6.5" fill="#fb055e"/><circle cx="554.8" cy="1463.5" r="6.5" fill="#8839ca"/><circle cx="558.5" cy="1458.2" r="6.5" fill="#b512a1"/><circle cx="551.1" cy="1463.1" r="6.5" fill="#db048b"/><circle cx="554.8" cy="1458.5" r="6.5" fill="#c50a9a"/><circle cx="562.2" cy="1458.3" r="6.5" fill="#ba109e"/><circle cx="573.0" cy="1460.4" r="6.5" fill="#e9027e"/><circle cx="547.2" cy="1460.4" r="6.5" fill="#f00374"/><circle cx="551.1" cy="1458.9" r="6.5" fill="#f90467"/><circle cx="551.3" cy="1460.4" r="6.5" fill="#f90465"/><circle cx="558.1" cy="1460.6" r="6.5" fill="#7e42d3"/><circle cx="565.9" cy="1458.7" r="6.5" fill="#f7046a"/><circle cx="562.6" cy="1461.0" r="6.5" fill="#ce0696"/><circle cx="562.2" cy="1463.7" r="6.5" fill="#d10694"/><circle cx="558.5" cy="1463.8" r="6.5" fill="#b214a2"/><circle cx="565.9" cy="1463.3" r="6.5" fill="#e9027e"/><circle cx="565.8" cy="1460.7" r="6.5" fill="#f7046a"/><circle cx="543.9" cy="1461.4" r="6.5" fill="#9f23b4"/><circle cx="569.8" cy="1460.7" r="6.5" fill="#a122b3"/><circle cx="554.9" cy="1460.5" r="6.5" fill="#833ecf"/><circle cx="576.9" cy="1461.5" r="6.5" fill="#be0e9d"/><circle cx="540.1" cy="1460.6" r="6.5" fill="#db048b"/><circle cx="588.5" cy="1461.0" r="6.5" fill="#a91baa"/><circle cx="595.0" cy="1461.0" r="6.5" fill="#ac19a8"/><circle cx="644.8" cy="1458.8" r="6.5" fill="#e9027e"/><circle cx="648.4" cy="1458.6" r="6.5" fill="#fe0654"/><circle cx="623.6" cy="1461.4" r="6.5" fill="#c10d9c"/><circle cx="648.4" cy="1463.4" r="6.5" fill="#fc055c"/><circle cx="640.6" cy="1460.4" r="6.5" fill="#ee0377"/><circle cx="652.0" cy="1463.5" r="6.5" fill="#d50590"/><circle cx="630.7" cy="1461.2" r="6.5" fill="#b513a1"/><circle cx="637.9" cy="1460.8" r="6.5" fill="#d20593"/><circle cx="641.2" cy="1458.9" r="6.5" fill="#d00695"/><circle cx="627.2" cy="1460.6" r="6.5" fill="#d10593"/><circle cx="652.0" cy="1458.5" r="6.5" fill="#fe0654"/><circle cx="619.4" cy="1460.6" r="6.5" fill="#b314a2"/><circle cx="634.5" cy="1460.6" r="6.5" fill="#ca0898"/><circle cx="604.7" cy="1460.4" r="6.5" fill="#7848d7"/><circle cx="648.8" cy="1460.6" r="6.5" fill="#ce0696"/><circle cx="615.4" cy="1461.2" r="6.5" fill="#9a27b9"/><circle cx="609.0" cy="1460.5" r="6.5" fill="#b513a1"/><circle cx="644.6" cy="1460.9" r="6.5" fill="#fe0654"/><circle cx="612.2" cy="1460.6" r="6.5" fill="#d20593"/><circle cx="651.7" cy="1460.6" r="6.5" fill="#fb055f"/><circle cx="644.8" cy="1463.2" r="6.5" fill="#f00375"/><circle cx="641.2" cy="1463.1" r="6.5" fill="#ef0375"/><circle cx="674.2" cy="1449.6" r="6.5" fill="#fa0561"/><circle cx="662.5" cy="1452.7" r="6.5" fill="#e8027f"/><circle cx="706.7" cy="1463.2" r="6.5" fill="#cb0797"/><circle cx="691.7" cy="1464.3" r="6.5" fill="#fe0654"/><circle cx="695.8" cy="1483.8" r="6.5" fill="#de0388"/><circle cx="718.0" cy="1458.3" r="6.5" fill="#fd0656"/><circle cx="684.8" cy="1432.1" r="6.5" fill="#8c35c7"/><circle cx="696.2" cy="1465.9" r="6.5" fill="#c80999"/><circle cx="706.9" cy="1469.0" r="6.5" fill="#cf0695"/><circle cx="658.5" cy="1449.4" r="6.5" fill="#ef0375"/><circle cx="699.5" cy="1457.9" r="6.5" fill="#fd0659"/><circle cx="670.0" cy="1423.4" r="6.5" fill="#ad18a7"/><circle cx="669.6" cy="1436.7" r="6.5" fill="#af16a5"/><circle cx="658.7" cy="1465.9" r="6.5" fill="#f20372"/><circle cx="685.1" cy="1446.7" r="6.5" fill="#d8048e"/><circle cx="706.9" cy="1447.1" r="6.5" fill="#ed0379"/><circle cx="688.5" cy="1477.1" r="6.5" fill="#da048c"/><circle cx="670.0" cy="1498.6" r="6.5" fill="#c50a9a"/><circle cx="673.1" cy="1439.0" r="6.5" fill="#8a37c9"/><circle cx="662.6" cy="1490.9" r="6.5" fill="#d60590"/><circle cx="659.2" cy="1460.5" r="6.5" fill="#fe0654"/><circle cx="688.4" cy="1487.9" r="6.5" fill="#ee0377"/><circle cx="662.1" cy="1463.1" r="6.5" fill="#fe0654"/><circle cx="651.5" cy="1473.5" r="6.5" fill="#fe0654"/><circle cx="703.2" cy="1443.2" r="6.5" fill="#c30b9b"/><circle cx="691.7" cy="1442.4" r="6.5" fill="#952cbe"/><circle cx="670.0" cy="1480.5" r="6.5" fill="#d7058f"/><circle cx="674.3" cy="1467.1" r="6.5" fill="#d50591"/><circle cx="692.6" cy="1468.6" r="6.5" fill="#aa1aaa"/><circle cx="669.6" cy="1475.3" r="6.5" fill="#8a37c9"/><circle cx="703.5" cy="1465.9" r="6.5" fill="#c30b9b"/><circle cx="658.7" cy="1454.9" r="6.5" fill="#fe0654"/><circle cx="655.7" cy="1463.9" r="6.5" fill="#fe0654"/><circle cx="666.1" cy="1455.5" r="6.5" fill="#f20372"/><circle cx="666.6" cy="1494.7" r="6.5" fill="#a122b3"/><circle cx="677.4" cy="1494.4" r="6.5" fill="#ee0377"/><circle cx="677.1" cy="1491.5" r="6.5" fill="#fe0655"/><circle cx="662.1" cy="1441.4" r="6.5" fill="#d7048e"/><circle cx="662.3" cy="1496.1" r="6.5" fill="#fc055a"/><circle cx="651.5" cy="1455.7" r="6.5" fill="#fc055a"/><circle cx="696.1" cy="1450.2" r="6.5" fill="#843dce"/><circle cx="670.0" cy="1453.4" r="6.5" fill="#d6058f"/><circle cx="662.6" cy="1475.3" r="6.5" fill="#d00694"/><circle cx="651.5" cy="1448.5" r="6.5" fill="#f90465"/><circle cx="684.7" cy="1468.6" r="6.5" fill="#f00374"/><circle cx="652.0" cy="1450.7" r="6.5" fill="#c70999"/><circle cx="681.6" cy="1472.2" r="6.5" fill="#b413a1"/><circle cx="688.3" cy="1483.4" r="6.5" fill="#aa1aaa"/><circle cx="662.6" cy="1458.3" r="6.5" fill="#c70a99"/><circle cx="718.0" cy="1463.7" r="6.5" fill="#cb0797"/><circle cx="677.2" cy="1447.3" r="6.5" fill="#8938ca"/><circle cx="666.1" cy="1477.7" r="6.5" fill="#e60282"/><circle cx="651.2" cy="1471.4" r="6.5" fill="#df0388"/><circle cx="684.8" cy="1489.9" r="6.5" fill="#8f32c4"/><circle cx="677.4" cy="1474.5" r="6.5" fill="#fb055f"/><circle cx="713.7" cy="1460.4" r="6.5" fill="#a61eae"/><circle cx="670.2" cy="1463.4" r="6.5" fill="#c90998"/><circle cx="691.9" cy="1447.3" r="6.5" fill="#b9109f"/><circle cx="714.3" cy="1465.4" r="6.5" fill="#f30370"/><circle cx="688.2" cy="1465.9" r="6.5" fill="#f80468"/><circle cx="699.7" cy="1464.1" r="6.5" fill="#8839ca"/><circle cx="670.4" cy="1485.5" r="6.5" fill="#bb109e"/><circle cx="670.1" cy="1430.6" r="6.5" fill="#942dbe"/><circle cx="674.2" cy="1433.2" r="6.5" fill="#ef0376"/><circle cx="666.4" cy="1472.2" r="6.5" fill="#ba109e"/><circle cx="684.8" cy="1489.4" r="6.5" fill="#e80280"/><circle cx="681.2" cy="1455.6" r="6.5" fill="#f90465"/><circle cx="666.1" cy="1467.0" r="6.5" fill="#ba109f"/><circle cx="680.7" cy="1433.5" r="6.5" fill="#ce0696"/><circle cx="670.6" cy="1490.7" r="6.5" fill="#fb055e"/><circle cx="684.9" cy="1475.3" r="6.5" fill="#cb0897"/><circle cx="662.9" cy="1485.5" r="6.5" fill="#fe0654"/><circle cx="677.7" cy="1469.1" r="6.5" fill="#a71dad"/><circle cx="655.2" cy="1446.4" r="6.5" fill="#bd0e9d"/><circle cx="658.4" cy="1472.5" r="6.5" fill="#fe0654"/><circle cx="688.3" cy="1438.9" r="6.5" fill="#b612a0"/><circle cx="673.7" cy="1496.9" r="6.5" fill="#fa0561"/><circle cx="666.2" cy="1450.6" r="6.5" fill="#fc055c"/><circle cx="655.2" cy="1475.6" r="6.5" fill="#e30385"/><circle cx="662.6" cy="1495.9" r="6.5" fill="#b413a1"/><circle cx="691.8" cy="1458.7" r="6.5" fill="#ae17a6"/><circle cx="666.5" cy="1461.5" r="6.5" fill="#ed0379"/><circle cx="699.4" cy="1447.2" r="6.5" fill="#af16a5"/><circle cx="677.9" cy="1452.8" r="6.5" fill="#fe0654"/><circle cx="707.1" cy="1453.0" r="6.5" fill="#b711a0"/><circle cx="710.2" cy="1466.8" r="6.5" fill="#e30284"/><circle cx="695.8" cy="1438.2" r="6.5" fill="#d7058f"/><circle cx="655.0" cy="1458.6" r="6.5" fill="#f90466"/><circle cx="703.6" cy="1444.1" r="6.5" fill="#ee0377"/><circle cx="711.2" cy="1461.0" r="6.5" fill="#e60281"/><circle cx="681.3" cy="1444.8" r="6.5" fill="#fa0563"/><circle cx="665.9" cy="1433.0" r="6.5" fill="#c60a99"/><circle cx="680.7" cy="1483.4" r="6.5" fill="#9d25b6"/><circle cx="695.5" cy="1455.2" r="6.5" fill="#b612a0"/><circle cx="702.7" cy="1455.9" r="6.5" fill="#fb055d"/><circle cx="654.7" cy="1452.2" r="6.5" fill="#f20371"/><circle cx="707.3" cy="1474.4" r="6.5" fill="#de0389"/><circle cx="662.1" cy="1469.6" r="6.5" fill="#f5046d"/><circle cx="696.4" cy="1477.3" r="6.5" fill="#fc055a"/><circle cx="692.1" cy="1436.2" r="6.5" fill="#932ec0"/><circle cx="670.4" cy="1469.1" r="6.5" fill="#cf0695"/><circle cx="681.2" cy="1439.5" r="6.5" fill="#e00387"/><circle cx="654.6" cy="1474.9" r="6.5" fill="#be0e9d"/><circle cx="680.7" cy="1477.6" r="6.5" fill="#fa0562"/><circle cx="662.0" cy="1435.7" r="6.5" fill="#a41fb0"/><circle cx="706.9" cy="1474.9" r="6.5" fill="#ea027d"/><circle cx="673.8" cy="1477.8" r="6.5" fill="#f30370"/><circle cx="681.1" cy="1430.0" r="6.5" fill="#8d34c5"/><circle cx="696.0" cy="1472.1" r="6.5" fill="#e8027f"/><circle cx="673.5" cy="1444.4" r="6.5" fill="#ad18a6"/><circle cx="688.4" cy="1434.1" r="6.5" fill="#9130c1"/><circle cx="688.9" cy="1472.6" r="6.5" fill="#fc055c"/><circle cx="703.2" cy="1478.8" r="6.5" fill="#df0387"/><circle cx="692.1" cy="1485.8" r="6.5" fill="#be0e9d"/><circle cx="702.9" cy="1450.4" r="6.5" fill="#8a37c9"/><circle cx="699.5" cy="1481.8" r="6.5" fill="#b413a1"/><circle cx="681.1" cy="1460.6" r="6.5" fill="#a022b3"/><circle cx="666.3" cy="1422.7" r="6.5" fill="#a023b4"/><circle cx="702.8" cy="1472.5" r="6.5" fill="#b9109f"/><circle cx="666.3" cy="1499.3" r="6.5" fill="#e20385"/><circle cx="718.5" cy="1460.5" r="6.5" fill="#a320b0"/><circle cx="688.1" cy="1444.3" r="6.5" fill="#e10386"/><circle cx="651.8" cy="1465.9" r="6.5" fill="#ee0376"/><circle cx="688.3" cy="1455.3" r="6.5" fill="#fb055e"/><circle cx="680.6" cy="1489.0" r="6.5" fill="#942dbf"/><circle cx="666.4" cy="1482.9" r="6.5" fill="#ac19a8"/><circle cx="655.2" cy="1469.1" r="6.5" fill="#e30385"/><circle cx="670.3" cy="1497.3" r="6.5" fill="#9b26b8"/><circle cx="681.1" cy="1466.6" r="6.5" fill="#942dbe"/><circle cx="692.2" cy="1485.7" r="6.5" fill="#a122b2"/><circle cx="677.5" cy="1430.5" r="6.5" fill="#972abc"/><circle cx="684.4" cy="1479.7" r="6.5" fill="#9a27b9"/><circle cx="674.2" cy="1493.7" r="6.5" fill="#e9027d"/><circle cx="692.1" cy="1452.3" r="6.5" fill="#a022b3"/><circle cx="673.6" cy="1454.8" r="6.5" fill="#d7058f"/><circle cx="684.6" cy="1453.2" r="6.5" fill="#b712a0"/><circle cx="699.3" cy="1480.1" r="6.5" fill="#de0389"/><circle cx="710.6" cy="1452.0" r="6.5" fill="#843dce"/><circle cx="676.8" cy="1493.9" r="6.5" fill="#843dce"/><circle cx="699.4" cy="1452.5" r="6.5" fill="#d7058f"/><circle cx="676.9" cy="1485.6" r="6.5" fill="#863bcc"/><circle cx="670.6" cy="1457.8" r="6.5" fill="#fb0560"/><circle cx="665.9" cy="1427.6" r="6.5" fill="#fe0654"/><circle cx="673.9" cy="1461.6" r="6.5" fill="#ce0696"/><circle cx="702.8" cy="1477.3" r="6.5" fill="#9829bb"/><circle cx="714.3" cy="1456.6" r="6.5" fill="#ae17a5"/><circle cx="673.7" cy="1488.0" r="6.5" fill="#d40591"/><circle cx="699.4" cy="1475.0" r="6.5" fill="#8c35c6"/><circle cx="710.2" cy="1455.2" r="6.5" fill="#a71dad"/><circle cx="673.7" cy="1425.1" r="6.5" fill="#fd0656"/><circle cx="710.6" cy="1470.0" r="6.5" fill="#aa1baa"/><circle cx="651.0" cy="1460.6" r="6.5" fill="#fe0654"/><circle cx="673.6" cy="1483.1" r="6.5" fill="#f90466"/><circle cx="699.5" cy="1440.2" r="6.5" fill="#ef0375"/><circle cx="687.9" cy="1449.6" r="6.5" fill="#bf0e9d"/><circle cx="695.5" cy="1444.4" r="6.5" fill="#d10593"/><circle cx="695.9" cy="1438.5" r="6.5" fill="#932ec0"/><circle cx="685.0" cy="1441.3" r="6.5" fill="#e00387"/><circle cx="662.0" cy="1431.0" r="6.5" fill="#d20593"/><circle cx="692.7" cy="1474.5" r="6.5" fill="#a121b2"/><circle cx="658.9" cy="1477.4" r="6.5" fill="#f4046e"/><circle cx="677.4" cy="1435.9" r="6.5" fill="#d00695"/><circle cx="684.3" cy="1485.4" r="6.5" fill="#e70281"/><circle cx="662.4" cy="1447.9" r="6.5" fill="#f80468"/><circle cx="695.9" cy="1460.9" r="6.5" fill="#d40591"/><circle cx="707.2" cy="1458.7" r="6.5" fill="#952cbe"/><circle cx="684.7" cy="1436.9" r="6.5" fill="#d40591"/><circle cx="666.6" cy="1488.2" r="6.5" fill="#fa0563"/><circle cx="692.0" cy="1479.8" r="6.5" fill="#8c35c6"/><circle cx="673.9" cy="1471.9" r="6.5" fill="#fb0560"/><circle cx="677.3" cy="1441.2" r="6.5" fill="#833ecf"/><circle cx="695.7" cy="1483.7" r="6.5" fill="#f90464"/><circle cx="702.8" cy="1461.6" r="6.5" fill="#a81cac"/><circle cx="666.9" cy="1445.0" r="6.5" fill="#a022b3"/><circle cx="677.4" cy="1427.6" r="6.5" fill="#ad18a7"/><circle cx="666.8" cy="1438.4" r="6.5" fill="#9928ba"/><circle cx="680.5" cy="1450.2" r="6.5" fill="#f7046a"/><circle cx="673.2" cy="1427.7" r="6.5" fill="#fe0654"/><circle cx="681.1" cy="1492.0" r="6.5" fill="#bb0f9e"/><circle cx="685.0" cy="1458.4" r="6.5" fill="#b413a1"/><circle cx="669.4" cy="1446.9" r="6.5" fill="#f80469"/><circle cx="699.9" cy="1469.4" r="6.5" fill="#e50283"/><circle cx="685.3" cy="1464.2" r="6.5" fill="#f5046e"/><circle cx="662.2" cy="1480.4" r="6.5" fill="#e60282"/><circle cx="658.9" cy="1444.6" r="6.5" fill="#b214a2"/><circle cx="662.6" cy="1426.1" r="6.5" fill="#fa0560"/><circle cx="688.6" cy="1460.4" r="6.5" fill="#f4046f"/><circle cx="677.9" cy="1463.7" r="6.5" fill="#fc055c"/><circle cx="676.9" cy="1457.7" r="6.5" fill="#9b26b8"/><circle cx="670.2" cy="1442.1" r="6.5" fill="#db048b"/><circle cx="677.9" cy="1480.8" r="6.5" fill="#d40591"/><circle cx="836.2" cy="1465.1" r="6.5" fill="#0b83f5"/><circle cx="796.8" cy="1458.6" r="6.5" fill="#446aed"/><circle cx="947.3" cy="1463.5" r="6.5" fill="#0f82f5"/><circle cx="929.4" cy="1464.7" r="6.5" fill="#0f82f6"/><circle cx="893.5" cy="1458.0" r="6.5" fill="#0d83f5"/><circle cx="736.4" cy="1460.9" r="6.5" fill="#a81cac"/><circle cx="764.6" cy="1463.0" r="6.5" fill="#853ccd"/><circle cx="940.2" cy="1464.0" r="6.5" fill="#0a84f5"/><circle cx="828.7" cy="1461.3" r="6.5" fill="#0f82f6"/><circle cx="947.3" cy="1458.5" r="6.5" fill="#0d83f5"/><circle cx="804.2" cy="1461.6" r="6.5" fill="#5462ea"/><circle cx="915.6" cy="1461.4" r="6.5" fill="#0a84f5"/><circle cx="868.8" cy="1456.0" r="6.5" fill="#0f82f5"/><circle cx="789.7" cy="1458.7" r="6.5" fill="#6954e1"/><circle cx="947.8" cy="1460.4" r="6.5" fill="#0a84f5"/><circle cx="843.4" cy="1456.4" r="6.5" fill="#0c83f5"/><circle cx="821.9" cy="1457.7" r="6.5" fill="#1380f6"/><circle cx="746.1" cy="1461.6" r="6.5" fill="#ab1aa9"/><circle cx="893.6" cy="1466.9" r="6.5" fill="#0a84f5"/><circle cx="890.0" cy="1467.1" r="6.5" fill="#0b84f5"/><circle cx="876.2" cy="1461.1" r="6.5" fill="#0a84f5"/><circle cx="857.7" cy="1466.9" r="6.5" fill="#0a84f5"/><circle cx="965.5" cy="1461.3" r="6.5" fill="#0a84f5"/><circle cx="864.8" cy="1467.6" r="6.5" fill="#0f82f6"/><circle cx="757.3" cy="1461.4" r="6.5" fill="#833ecf"/><circle cx="897.5" cy="1467.0" r="6.5" fill="#0a84f5"/><circle cx="825.5" cy="1457.6" r="6.5" fill="#0d83f5"/><circle cx="882.8" cy="1454.5" r="6.5" fill="#0e82f5"/><circle cx="868.1" cy="1466.4" r="6.5" fill="#0a84f5"/><circle cx="847.0" cy="1465.8" r="6.5" fill="#0a84f5"/><circle cx="850.6" cy="1456.0" r="6.5" fill="#0f82f6"/><circle cx="807.6" cy="1458.3" r="6.5" fill="#3771f0"/><circle cx="900.8" cy="1455.5" r="6.5" fill="#0f82f5"/><circle cx="868.5" cy="1454.5" r="6.5" fill="#0a84f5"/><circle cx="739.1" cy="1461.4" r="6.5" fill="#ba109f"/><circle cx="954.7" cy="1461.7" r="6.5" fill="#0d83f5"/><circle cx="858.2" cy="1463.4" r="6.5" fill="#0f82f5"/><circle cx="804.0" cy="1463.6" r="6.5" fill="#5462e9"/><circle cx="972.1" cy="1460.6" r="6.5" fill="#1082f6"/><circle cx="771.6" cy="1461.2" r="6.5" fill="#7c45d5"/><circle cx="944.2" cy="1461.2" r="6.5" fill="#0f82f5"/><circle cx="839.8" cy="1461.1" r="6.5" fill="#0a84f5"/><circle cx="789.7" cy="1463.3" r="6.5" fill="#6954e1"/><circle cx="839.8" cy="1465.3" r="6.5" fill="#0a84f5"/><circle cx="753.5" cy="1460.9" r="6.5" fill="#9f23b4"/><circle cx="925.8" cy="1457.1" r="6.5" fill="#0a84f5"/><circle cx="904.5" cy="1461.3" r="6.5" fill="#0b84f5"/><circle cx="900.2" cy="1460.7" r="6.5" fill="#0e82f5"/><circle cx="774.8" cy="1461.3" r="6.5" fill="#7748d8"/><circle cx="768.2" cy="1463.1" r="6.5" fill="#724ddb"/><circle cx="854.2" cy="1455.7" r="6.5" fill="#0a84f5"/><circle cx="718.0" cy="1458.5" r="6.5" fill="#e8027f"/><circle cx="897.2" cy="1466.7" r="6.5" fill="#0c83f5"/><circle cx="843.4" cy="1465.6" r="6.5" fill="#0a84f5"/><circle cx="907.9" cy="1466.0" r="6.5" fill="#0e82f5"/><circle cx="879.2" cy="1467.1" r="6.5" fill="#0f82f5"/><circle cx="886.5" cy="1464.0" r="6.5" fill="#0f82f6"/><circle cx="918.2" cy="1461.3" r="6.5" fill="#0a84f5"/><circle cx="911.5" cy="1465.8" r="6.5" fill="#0a84f5"/><circle cx="847.0" cy="1456.2" r="6.5" fill="#0c83f5"/><circle cx="915.1" cy="1456.4" r="6.5" fill="#0a84f5"/><circle cx="832.7" cy="1457.1" r="6.5" fill="#1281f6"/><circle cx="721.6" cy="1460.9" r="6.5" fill="#e30284"/><circle cx="875.4" cy="1467.0" r="6.5" fill="#0a84f5"/><circle cx="936.5" cy="1461.1" r="6.5" fill="#0a84f5"/><circle cx="961.9" cy="1461.1" r="6.5" fill="#0a84f5"/><circle cx="851.1" cy="1461.7" r="6.5" fill="#0c83f5"/><circle cx="882.8" cy="1455.3" r="6.5" fill="#0a84f5"/><circle cx="915.1" cy="1465.6" r="6.5" fill="#0e82f5"/><circle cx="778.9" cy="1463.2" r="6.5" fill="#6f4fdd"/><circle cx="872.0" cy="1458.0" r="6.5" fill="#0a84f5"/><circle cx="818.3" cy="1464.2" r="6.5" fill="#2778f3"/><circle cx="718.0" cy="1463.5" r="6.5" fill="#e50283"/><circle cx="954.5" cy="1463.1" r="6.5" fill="#0b84f5"/><circle cx="797.1" cy="1461.0" r="6.5" fill="#4d65eb"/><circle cx="782.5" cy="1458.8" r="6.5" fill="#7d44d4"/><circle cx="860.8" cy="1456.1" r="6.5" fill="#0a84f5"/><circle cx="728.7" cy="1460.9" r="6.5" fill="#cc0797"/><circle cx="861.6" cy="1461.6" r="6.5" fill="#0a84f5"/><circle cx="800.8" cy="1461.5" r="6.5" fill="#5b5ee8"/><circle cx="821.9" cy="1464.3" r="6.5" fill="#207bf4"/><circle cx="954.5" cy="1458.9" r="6.5" fill="#0a84f5"/><circle cx="842.9" cy="1461.3" r="6.5" fill="#0a84f5"/><circle cx="857.7" cy="1458.0" r="6.5" fill="#0a84f5"/><circle cx="907.9" cy="1456.0" r="6.5" fill="#0a84f5"/><circle cx="814.8" cy="1458.0" r="6.5" fill="#177ff5"/><circle cx="807.6" cy="1463.7" r="6.5" fill="#2b76f2"/><circle cx="939.8" cy="1461.3" r="6.5" fill="#0a84f5"/><circle cx="786.1" cy="1463.3" r="6.5" fill="#6e50de"/><circle cx="886.4" cy="1454.7" r="6.5" fill="#0e82f5"/><circle cx="890.2" cy="1460.9" r="6.5" fill="#0a84f5"/><circle cx="857.8" cy="1466.6" r="6.5" fill="#0b84f5"/><circle cx="904.3" cy="1466.2" r="6.5" fill="#0a84f5"/><circle cx="771.8" cy="1458.9" r="6.5" fill="#873acb"/><circle cx="911.5" cy="1456.2" r="6.5" fill="#0f82f5"/><circle cx="886.4" cy="1467.3" r="6.5" fill="#0a84f5"/><circle cx="825.3" cy="1461.5" r="6.5" fill="#1d7cf5"/><circle cx="943.8" cy="1463.8" r="6.5" fill="#0a84f5"/><circle cx="778.5" cy="1460.6" r="6.5" fill="#7848d8"/><circle cx="793.2" cy="1458.6" r="6.5" fill="#5b5ee8"/><circle cx="804.0" cy="1458.4" r="6.5" fill="#5e5ce7"/><circle cx="861.3" cy="1466.9" r="6.5" fill="#0a84f5"/><circle cx="725.7" cy="1461.2" r="6.5" fill="#d6058f"/><circle cx="889.5" cy="1466.5" r="6.5" fill="#0a84f5"/><circle cx="943.8" cy="1458.2" r="6.5" fill="#0b84f5"/><circle cx="796.8" cy="1463.4" r="6.5" fill="#6459e5"/><circle cx="875.2" cy="1455.3" r="6.5" fill="#0f82f5"/><circle cx="800.4" cy="1458.5" r="6.5" fill="#6459e5"/><circle cx="811.2" cy="1458.1" r="6.5" fill="#3970f0"/><circle cx="918.7" cy="1465.3" r="6.5" fill="#0a84f5"/><circle cx="882.8" cy="1467.5" r="6.5" fill="#1082f6"/><circle cx="864.9" cy="1454.8" r="6.5" fill="#1082f6"/><circle cx="846.7" cy="1461.2" r="6.5" fill="#0b84f5"/><circle cx="825.5" cy="1464.4" r="6.5" fill="#0e83f5"/><circle cx="875.7" cy="1468.0" r="6.5" fill="#0c83f5"/><circle cx="853.6" cy="1461.2" r="6.5" fill="#0d83f5"/><circle cx="950.7" cy="1461.0" r="6.5" fill="#0a84f5"/><circle cx="975.5" cy="1460.9" r="6.5" fill="#0f82f5"/><circle cx="829.1" cy="1457.4" r="6.5" fill="#167ff6"/><circle cx="800.4" cy="1463.5" r="6.5" fill="#406dee"/><circle cx="764.6" cy="1459.0" r="6.5" fill="#744bda"/><circle cx="721.6" cy="1463.3" r="6.5" fill="#e30284"/><circle cx="771.8" cy="1463.1" r="6.5" fill="#8140d1"/><circle cx="832.7" cy="1464.9" r="6.5" fill="#0b83f5"/><circle cx="879.2" cy="1467.7" r="6.5" fill="#0b83f5"/><circle cx="872.1" cy="1467.8" r="6.5" fill="#0a84f5"/><circle cx="918.7" cy="1456.7" r="6.5" fill="#0d83f5"/><circle cx="933.0" cy="1464.4" r="6.5" fill="#0a84f5"/><circle cx="904.3" cy="1455.8" r="6.5" fill="#0a84f5"/><circle cx="886.4" cy="1457.7" r="6.5" fill="#0f82f5"/><circle cx="922.2" cy="1456.9" r="6.5" fill="#0a84f5"/><circle cx="871.8" cy="1464.4" r="6.5" fill="#0a84f5"/><circle cx="865.2" cy="1458.1" r="6.5" fill="#0a84f5"/><circle cx="893.5" cy="1466.9" r="6.5" fill="#0a84f5"/><circle cx="775.3" cy="1463.2" r="6.5" fill="#6558e4"/><circle cx="817.9" cy="1460.6" r="6.5" fill="#1181f6"/><circle cx="829.1" cy="1464.6" r="6.5" fill="#1181f6"/><circle cx="810.9" cy="1460.7" r="6.5" fill="#3174f1"/><circle cx="725.2" cy="1463.1" r="6.5" fill="#d40591"/><circle cx="764.9" cy="1461.2" r="6.5" fill="#843dce"/><circle cx="950.9" cy="1463.3" r="6.5" fill="#0e82f5"/><circle cx="872.1" cy="1454.2" r="6.5" fill="#0a84f5"/><circle cx="832.9" cy="1461.2" r="6.5" fill="#0c83f5"/><circle cx="890.1" cy="1455.6" r="6.5" fill="#0a84f5"/><circle cx="857.8" cy="1455.4" r="6.5" fill="#0b84f5"/><circle cx="768.2" cy="1458.9" r="6.5" fill="#734cdb"/><circle cx="782.5" cy="1463.2" r="6.5" fill="#7d43d4"/><circle cx="925.8" cy="1464.9" r="6.5" fill="#0a84f5"/><circle cx="860.9" cy="1467.1" r="6.5" fill="#0a84f5"/><circle cx="814.6" cy="1460.4" r="6.5" fill="#2e75f2"/><circle cx="717.6" cy="1460.8" r="6.5" fill="#e8027f"/><circle cx="929.0" cy="1461.2" r="6.5" fill="#0a84f5"/><circle cx="883.2" cy="1461.5" r="6.5" fill="#0f82f5"/><circle cx="922.0" cy="1460.7" r="6.5" fill="#0e83f5"/><circle cx="936.6" cy="1457.8" r="6.5" fill="#1082f6"/><circle cx="781.9" cy="1460.9" r="6.5" fill="#6c51df"/><circle cx="897.0" cy="1460.5" r="6.5" fill="#0d83f5"/><circle cx="875.7" cy="1454.0" r="6.5" fill="#0f82f5"/><circle cx="778.9" cy="1458.8" r="6.5" fill="#7b45d5"/><circle cx="940.2" cy="1458.0" r="6.5" fill="#0d83f5"/><circle cx="807.7" cy="1460.4" r="6.5" fill="#2f75f2"/><circle cx="850.6" cy="1466.0" r="6.5" fill="#0b84f5"/><circle cx="872.4" cy="1468.1" r="6.5" fill="#0d83f5"/><circle cx="861.3" cy="1455.1" r="6.5" fill="#0c83f5"/><circle cx="929.4" cy="1457.3" r="6.5" fill="#0a84f5"/><circle cx="750.7" cy="1461.6" r="6.5" fill="#9829bb"/><circle cx="868.5" cy="1467.5" r="6.5" fill="#0a84f5"/><circle cx="896.9" cy="1455.4" r="6.5" fill="#0a84f5"/><circle cx="922.2" cy="1465.1" r="6.5" fill="#0a84f5"/><circle cx="789.1" cy="1460.4" r="6.5" fill="#5263ea"/><circle cx="814.8" cy="1464.0" r="6.5" fill="#2e75f2"/><circle cx="818.3" cy="1457.8" r="6.5" fill="#1c7df5"/><circle cx="854.2" cy="1466.3" r="6.5" fill="#0a84f5"/><circle cx="793.5" cy="1461.4" r="6.5" fill="#4b67ec"/><circle cx="879.2" cy="1454.3" r="6.5" fill="#0a84f5"/><circle cx="912.1" cy="1460.7" r="6.5" fill="#0a84f5"/><circle cx="767.8" cy="1460.6" r="6.5" fill="#8c35c7"/><circle cx="958.4" cy="1460.5" r="6.5" fill="#0a84f5"/><circle cx="893.6" cy="1455.1" r="6.5" fill="#0c83f5"/><circle cx="950.9" cy="1458.7" r="6.5" fill="#0a84f5"/><circle cx="882.5" cy="1467.0" r="6.5" fill="#0a84f5"/><circle cx="936.6" cy="1464.2" r="6.5" fill="#0a84f5"/><circle cx="836.2" cy="1456.9" r="6.5" fill="#0a84f5"/><circle cx="925.9" cy="1461.7" r="6.5" fill="#0f82f5"/><circle cx="732.5" cy="1461.4" r="6.5" fill="#aa1baa"/><circle cx="865.0" cy="1464.2" r="6.5" fill="#0a84f5"/><circle cx="836.8" cy="1461.0" r="6.5" fill="#0b84f5"/><circle cx="743.4" cy="1461.4" r="6.5" fill="#ad18a6"/><circle cx="785.9" cy="1460.9" r="6.5" fill="#6a53e1"/><circle cx="900.8" cy="1466.5" r="6.5" fill="#0a84f5"/><circle cx="811.2" cy="1463.9" r="6.5" fill="#3074f2"/><circle cx="932.5" cy="1461.6" r="6.5" fill="#0a84f5"/><circle cx="893.0" cy="1463.3" r="6.5" fill="#0a84f5"/><circle cx="886.9" cy="1468.0" r="6.5" fill="#0d83f5"/><circle cx="908.5" cy="1461.7" r="6.5" fill="#0c83f5"/><circle cx="890.0" cy="1454.9" r="6.5" fill="#0f82f5"/><circle cx="793.2" cy="1463.4" r="6.5" fill="#6c52e0"/><circle cx="775.3" cy="1458.8" r="6.5" fill="#7649d9"/><circle cx="761.5" cy="1461.4" r="6.5" fill="#7d44d4"/><circle cx="725.2" cy="1458.9" r="6.5" fill="#ca0898"/><circle cx="821.4" cy="1460.3" r="6.5" fill="#2a77f3"/><circle cx="933.0" cy="1457.6" r="6.5" fill="#0b84f5"/><circle cx="868.6" cy="1461.2" r="6.5" fill="#0d83f5"/><circle cx="879.8" cy="1463.5" r="6.5" fill="#0a84f5"/><circle cx="864.9" cy="1467.2" r="6.5" fill="#0a84f5"/><circle cx="879.6" cy="1457.7" r="6.5" fill="#0a84f5"/><circle cx="968.9" cy="1461.5" r="6.5" fill="#0b84f5"/><circle cx="721.6" cy="1458.7" r="6.5" fill="#d50590"/><circle cx="897.2" cy="1455.3" r="6.5" fill="#0e82f5"/><circle cx="786.1" cy="1458.7" r="6.5" fill="#7a46d6"/><circle cx="839.8" cy="1456.7" r="6.5" fill="#0b84f5"/><circle cx="996.5" cy="1461.0" r="6.5" fill="#0a84f5"/><circle cx="1166.3" cy="1461.4" r="6.5" fill="#0a84f5"/><circle cx="1145.0" cy="1461.0" r="6.5" fill="#0a84f5"/><circle cx="1155.4" cy="1460.5" r="6.5" fill="#0a84f5"/><circle cx="1068.8" cy="1460.9" r="6.5" fill="#0a84f5"/><circle cx="1022.8" cy="1461.1" r="6.5" fill="#0b84f5"/><circle cx="1122.9" cy="1461.0" r="6.5" fill="#0b84f5"/><circle cx="1072.9" cy="1461.1" r="6.5" fill="#0a84f5"/><circle cx="1044.0" cy="1460.8" r="6.5" fill="#0a84f5"/><circle cx="1018.7" cy="1460.4" r="6.5" fill="#0a84f5"/><circle cx="1026.8" cy="1460.7" r="6.5" fill="#0b84f5"/><circle cx="1141.8" cy="1461.5" r="6.5" fill="#0a84f5"/><circle cx="1169.6" cy="1461.5" r="6.5" fill="#0b83f5"/><circle cx="1079.9" cy="1461.5" r="6.5" fill="#0a84f5"/><circle cx="1054.6" cy="1460.4" r="6.5" fill="#0a84f5"/><circle cx="1051.3" cy="1460.5" r="6.5" fill="#0b84f5"/><circle cx="1062.4" cy="1461.1" r="6.5" fill="#0b84f5"/><circle cx="1119.1" cy="1461.1" r="6.5" fill="#0a84f5"/><circle cx="1130.8" cy="1461.7" r="6.5" fill="#0a84f5"/><circle cx="1036.7" cy="1461.2" r="6.5" fill="#0a84f5"/><circle cx="1047.5" cy="1460.5" r="6.5" fill="#0a84f5"/><circle cx="1087.3" cy="1461.2" r="6.5" fill="#0c83f5"/><circle cx="1152.1" cy="1460.6" r="6.5" fill="#0a84f5"/><circle cx="1137.9" cy="1461.3" r="6.5" fill="#0b84f5"/><circle cx="1065.2" cy="1460.8" r="6.5" fill="#0a84f5"/><circle cx="1126.9" cy="1461.2" r="6.5" fill="#0a84f5"/><circle cx="1033.6" cy="1461.6" r="6.5" fill="#0b83f5"/><circle cx="1083.4" cy="1461.2" r="6.5" fill="#0a84f5"/><circle cx="1113.0" cy="1460.5" r="6.5" fill="#0a84f5"/><circle cx="1040.5" cy="1460.8" r="6.5" fill="#0a84f5"/><circle cx="1105.8" cy="1460.4" r="6.5" fill="#0a84f5"/><circle cx="1115.7" cy="1461.3" r="6.5" fill="#0a84f5"/><circle cx="1094.8" cy="1461.2" r="6.5" fill="#0a84f5"/><circle cx="1058.5" cy="1460.5" r="6.5" fill="#0a84f5"/><circle cx="1090.7" cy="1461.1" r="6.5" fill="#0c83f5"/><circle cx="1102.1" cy="1461.5" r="6.5" fill="#0a84f5"/><circle cx="1148.3" cy="1460.7" r="6.5" fill="#0b84f5"/><circle cx="1162.3" cy="1461.3" r="6.5" fill="#0a84f5"/><circle cx="1158.8" cy="1460.4" r="6.5" fill="#0a84f5"/><circle cx="1133.9" cy="1461.5" r="6.5" fill="#0a84f5"/><circle cx="1108.9" cy="1460.7" r="6.5" fill="#0a84f5"/><circle cx="1076.3" cy="1460.7" r="6.5" fill="#0a84f5"/><circle cx="1098.0" cy="1460.9" r="6.5" fill="#0a84f5"/><circle cx="1030.3" cy="1460.6" r="6.5" fill="#0b84f5"/><circle cx="1224.0" cy="1461.7" r="6.5" fill="#0a84f5"/><circle cx="1227.3" cy="1461.1" r="6.5" fill="#0b84f5"/><circle cx="1206.1" cy="1461.3" r="6.5" fill="#0c83f5"/><circle cx="1230.1" cy="1460.5" r="6.5" fill="#0a84f5"/><circle cx="1234.5" cy="1460.7" r="6.5" fill="#0a84f5"/><circle cx="1216.5" cy="1461.4" r="6.5" fill="#0b83f5"/><circle cx="1219.9" cy="1460.8" r="6.5" fill="#0a84f5"/><circle cx="1209.4" cy="1460.8" r="6.5" fill="#0a84f5"/><circle cx="1195.9" cy="1461.2" r="6.5" fill="#0a84f5"/><circle cx="1213.3" cy="1461.0" r="6.5" fill="#0a84f5"/><circle cx="1203.2" cy="1460.5" r="6.5" fill="#0a84f5"/><circle cx="1200.0" cy="1461.7" r="6.5" fill="#0a84f5"/><circle cx="1250.0" cy="1461.0" r="6.5" fill="#0a84f5"/><circle cx="1266.0" cy="1461.0" r="6.5" fill="#0a84f5"/><circle cx="1274.0" cy="1461.0" r="6.5" fill="#0a84f5"/><circle cx="1282.0" cy="1461.0" r="6.5" fill="#0a84f5"/><circle cx="1289.0" cy="1461.0" r="6.5" fill="#0a84f5"/><circle cx="1304.0" cy="1461.0" r="6.5" fill="#0a84f5"/><circle cx="1312.0" cy="1461.0" r="6.5" fill="#0a84f5"/><circle cx="1320.0" cy="1461.0" r="6.5" fill="#0b84f5"/><circle cx="1328.0" cy="1461.0" r="6.5" fill="#0a84f5"/><circle cx="1341.0" cy="1461.0" r="6.5" fill="#0a84f5"/><circle cx="1360.0" cy="1461.0" r="6.5" fill="#0a84f5"/><circle cx="1368.0" cy="1461.0" r="6.5" fill="#0a84f5"/><circle cx="1376.0" cy="1461.0" r="6.5" fill="#0b83f5"/><circle cx="1384.0" cy="1461.0" r="6.5" fill="#0a84f5"/><circle cx="1392.0" cy="1461.0" r="6.5" fill="#0b84f5"/><circle cx="460.7" cy="1568.4" r="6.5" fill="#fe0654"/><circle cx="495.6" cy="1568.4" r="6.5" fill="#b811a0"/><circle cx="505.0" cy="1568.4" r="6.5" fill="#853ccd"/><circle cx="554.4" cy="1568.4" r="6.5" fill="#714edc"/><circle cx="580.0" cy="1568.4" r="6.5" fill="#da048c"/><circle cx="622.3" cy="1568.8" r="6.5" fill="#fd0658"/><circle cx="658.4" cy="1570.6" r="6.5" fill="#ee0377"/><circle cx="643.8" cy="1568.6" r="6.5" fill="#6e50de"/><circle cx="661.9" cy="1567.7" r="6.5" fill="#fb055e"/><circle cx="632.9" cy="1569.0" r="6.5" fill="#3c6ff0"/><circle cx="619.2" cy="1568.8" r="6.5" fill="#fd0656"/><circle cx="647.3" cy="1569.0" r="6.5" fill="#b711a0"/><circle cx="630.1" cy="1568.3" r="6.5" fill="#8938c9"/><circle cx="593.3" cy="1569.0" r="6.5" fill="#fe0654"/><circle cx="604.0" cy="1567.9" r="6.5" fill="#e9027e"/><circle cx="658.6" cy="1567.9" r="6.5" fill="#e00387"/><circle cx="662.0" cy="1565.9" r="6.5" fill="#f90464"/><circle cx="640.2" cy="1568.6" r="6.5" fill="#7f42d3"/><circle cx="662.0" cy="1570.9" r="6.5" fill="#f80469"/><circle cx="615.8" cy="1567.7" r="6.5" fill="#fa0562"/><circle cx="636.9" cy="1568.0" r="6.5" fill="#5f5ce7"/><circle cx="658.4" cy="1566.2" r="6.5" fill="#e30385"/><circle cx="601.1" cy="1567.9" r="6.5" fill="#e70280"/><circle cx="654.5" cy="1568.7" r="6.5" fill="#ec0379"/><circle cx="597.8" cy="1568.3" r="6.5" fill="#fe0654"/><circle cx="626.3" cy="1569.1" r="6.5" fill="#9f23b4"/><circle cx="607.8" cy="1568.8" r="6.5" fill="#f4046e"/><circle cx="590.1" cy="1568.6" r="6.5" fill="#fd0657"/><circle cx="611.6" cy="1567.7" r="6.5" fill="#ef0376"/><circle cx="650.7" cy="1568.2" r="6.5" fill="#ea027c"/><circle cx="712.9" cy="1596.4" r="6.5" fill="#0d83f5"/><circle cx="705.7" cy="1552.0" r="6.5" fill="#7c45d5"/><circle cx="695.2" cy="1581.7" r="6.5" fill="#5e5ce7"/><circle cx="691.3" cy="1591.0" r="6.5" fill="#ab1aa9"/><circle cx="705.7" cy="1578.8" r="6.5" fill="#8b36c7"/><circle cx="669.1" cy="1573.3" r="6.5" fill="#df0388"/><circle cx="695.4" cy="1549.0" r="6.5" fill="#7a46d6"/><circle cx="716.9" cy="1555.1" r="6.5" fill="#167ff6"/><circle cx="698.9" cy="1580.1" r="6.5" fill="#843dce"/><circle cx="691.2" cy="1579.2" r="6.5" fill="#aa1aaa"/><circle cx="698.5" cy="1590.2" r="6.5" fill="#ab1aa9"/><circle cx="710.2" cy="1538.2" r="6.5" fill="#5561e9"/><circle cx="695.0" cy="1542.6" r="6.5" fill="#5561e9"/><circle cx="717.0" cy="1560.2" r="6.5" fill="#5064ea"/><circle cx="691.5" cy="1584.6" r="6.5" fill="#b314a2"/><circle cx="666.0" cy="1574.5" r="6.5" fill="#fb055f"/><circle cx="702.7" cy="1598.1" r="6.5" fill="#942dbf"/><circle cx="710.0" cy="1570.9" r="6.5" fill="#833ecf"/><circle cx="705.6" cy="1595.7" r="6.5" fill="#4967ec"/><circle cx="702.3" cy="1566.3" r="6.5" fill="#833ecf"/><circle cx="709.1" cy="1565.2" r="6.5" fill="#1381f6"/><circle cx="673.0" cy="1557.4" r="6.5" fill="#e30284"/><circle cx="690.9" cy="1556.9" r="6.5" fill="#cd0696"/><circle cx="713.0" cy="1546.5" r="6.5" fill="#714ddc"/><circle cx="680.9" cy="1571.6" r="6.5" fill="#e20386"/><circle cx="706.1" cy="1535.3" r="6.5" fill="#6657e3"/><circle cx="690.7" cy="1590.6" r="6.5" fill="#6756e2"/><circle cx="705.5" cy="1590.1" r="6.5" fill="#6b52e0"/><circle cx="662.0" cy="1565.9" r="6.5" fill="#f5046e"/><circle cx="691.3" cy="1551.8" r="6.5" fill="#a022b3"/><circle cx="709.3" cy="1576.8" r="6.5" fill="#7d43d4"/><circle cx="705.9" cy="1585.1" r="6.5" fill="#4b66ec"/><circle cx="695.6" cy="1577.1" r="6.5" fill="#be0e9d"/><circle cx="691.2" cy="1573.5" r="6.5" fill="#b016a4"/><circle cx="717.4" cy="1576.9" r="6.5" fill="#1281f6"/><circle cx="687.3" cy="1560.3" r="6.5" fill="#952cbe"/><circle cx="699.1" cy="1595.4" r="6.5" fill="#7c44d4"/><circle cx="699.1" cy="1562.9" r="6.5" fill="#4d65eb"/><circle cx="662.5" cy="1567.8" r="6.5" fill="#fe0654"/><circle cx="698.7" cy="1557.5" r="6.5" fill="#863bcc"/><circle cx="713.7" cy="1585.2" r="6.5" fill="#615be6"/><circle cx="687.7" cy="1549.2" r="6.5" fill="#d7058f"/><circle cx="665.7" cy="1574.6" r="6.5" fill="#fc055c"/><circle cx="716.6" cy="1549.4" r="6.5" fill="#1480f6"/><circle cx="666.2" cy="1570.6" r="6.5" fill="#fe0654"/><circle cx="713.3" cy="1532.7" r="6.5" fill="#1082f6"/><circle cx="694.7" cy="1566.1" r="6.5" fill="#5462e9"/><circle cx="691.9" cy="1562.3" r="6.5" fill="#b115a3"/><circle cx="709.2" cy="1549.4" r="6.5" fill="#3771f0"/><circle cx="673.5" cy="1579.8" r="6.5" fill="#e60282"/><circle cx="702.4" cy="1548.5" r="6.5" fill="#5163ea"/><circle cx="712.8" cy="1563.2" r="6.5" fill="#0f82f5"/><circle cx="709.7" cy="1531.6" r="6.5" fill="#4f65eb"/><circle cx="694.5" cy="1560.4" r="6.5" fill="#8e33c4"/><circle cx="701.9" cy="1582.2" r="6.5" fill="#4669ed"/><circle cx="676.6" cy="1573.9" r="6.5" fill="#fe0654"/><circle cx="687.4" cy="1565.3" r="6.5" fill="#b712a0"/><circle cx="680.8" cy="1566.3" r="6.5" fill="#d60590"/><circle cx="713.3" cy="1604.2" r="6.5" fill="#177ff5"/><circle cx="717.0" cy="1538.9" r="6.5" fill="#5c5de7"/><circle cx="699.1" cy="1584.8" r="6.5" fill="#5860e9"/><circle cx="690.9" cy="1545.9" r="6.5" fill="#724ddb"/><circle cx="717.3" cy="1565.4" r="6.5" fill="#0a84f5"/><circle cx="706.6" cy="1569.0" r="6.5" fill="#237af4"/><circle cx="716.5" cy="1593.1" r="6.5" fill="#2a77f3"/><circle cx="665.7" cy="1562.2" r="6.5" fill="#fe0654"/><circle cx="684.0" cy="1552.9" r="6.5" fill="#fe0654"/><circle cx="698.7" cy="1539.5" r="6.5" fill="#8d34c5"/><circle cx="698.2" cy="1545.8" r="6.5" fill="#bf0e9c"/><circle cx="698.6" cy="1540.5" r="6.5" fill="#8b36c7"/><circle cx="669.3" cy="1559.2" r="6.5" fill="#f6046c"/><circle cx="698.7" cy="1597.3" r="6.5" fill="#bc0f9e"/><circle cx="695.2" cy="1592.5" r="6.5" fill="#734cdb"/><circle cx="706.0" cy="1603.1" r="6.5" fill="#5064eb"/><circle cx="687.7" cy="1587.6" r="6.5" fill="#af16a5"/><circle cx="710.2" cy="1582.4" r="6.5" fill="#3a70f0"/><circle cx="717.0" cy="1597.9" r="6.5" fill="#4769ed"/><circle cx="683.5" cy="1563.1" r="6.5" fill="#f90466"/><circle cx="702.5" cy="1554.7" r="6.5" fill="#5e5ce7"/><circle cx="665.9" cy="1565.5" r="6.5" fill="#fe0654"/><circle cx="684.2" cy="1557.4" r="6.5" fill="#f7046a"/><circle cx="669.8" cy="1568.4" r="6.5" fill="#fb055f"/><circle cx="716.8" cy="1597.8" r="6.5" fill="#0a84f5"/><circle cx="706.0" cy="1533.7" r="6.5" fill="#187ef5"/><circle cx="717.1" cy="1582.1" r="6.5" fill="#426cee"/><circle cx="695.0" cy="1594.2" r="6.5" fill="#b413a1"/><circle cx="713.6" cy="1568.6" r="6.5" fill="#6e50de"/><circle cx="683.8" cy="1569.0" r="6.5" fill="#fe0654"/><circle cx="705.9" cy="1558.0" r="6.5" fill="#3572f1"/><circle cx="713.3" cy="1551.7" r="6.5" fill="#5362ea"/><circle cx="680.3" cy="1554.3" r="6.5" fill="#fc055a"/><circle cx="710.1" cy="1559.7" r="6.5" fill="#7748d8"/><circle cx="676.5" cy="1568.0" r="6.5" fill="#d60590"/><circle cx="662.0" cy="1570.9" r="6.5" fill="#f90464"/><circle cx="687.1" cy="1576.2" r="6.5" fill="#e20386"/><circle cx="709.5" cy="1592.8" r="6.5" fill="#2579f3"/><circle cx="672.6" cy="1565.6" r="6.5" fill="#fd0658"/><circle cx="680.3" cy="1582.5" r="6.5" fill="#d20593"/><circle cx="702.5" cy="1588.3" r="6.5" fill="#9130c2"/><circle cx="699.0" cy="1567.7" r="6.5" fill="#ba109f"/><circle cx="684.1" cy="1574.6" r="6.5" fill="#ee0376"/><circle cx="709.7" cy="1605.2" r="6.5" fill="#3e6eef"/><circle cx="709.2" cy="1587.8" r="6.5" fill="#1281f6"/><circle cx="672.8" cy="1559.8" r="6.5" fill="#fe0654"/><circle cx="717.4" cy="1571.4" r="6.5" fill="#0f82f5"/><circle cx="687.3" cy="1554.2" r="6.5" fill="#e70281"/><circle cx="702.2" cy="1559.8" r="6.5" fill="#833ecf"/><circle cx="713.1" cy="1600.9" r="6.5" fill="#8140d1"/><circle cx="676.1" cy="1562.7" r="6.5" fill="#fb055e"/><circle cx="698.9" cy="1552.3" r="6.5" fill="#b712a0"/><circle cx="676.4" cy="1578.9" r="6.5" fill="#f90465"/><circle cx="702.3" cy="1600.5" r="6.5" fill="#5b5ee8"/><circle cx="676.4" cy="1557.1" r="6.5" fill="#e70280"/><circle cx="672.5" cy="1571.8" r="6.5" fill="#fe0654"/><circle cx="687.8" cy="1570.9" r="6.5" fill="#9130c1"/><circle cx="713.2" cy="1590.7" r="6.5" fill="#585fe8"/><circle cx="701.9" cy="1593.6" r="6.5" fill="#5064eb"/><circle cx="694.6" cy="1587.7" r="6.5" fill="#9130c1"/><circle cx="716.6" cy="1587.9" r="6.5" fill="#0f82f6"/><circle cx="676.7" cy="1555.7" r="6.5" fill="#fe0654"/><circle cx="679.8" cy="1560.1" r="6.5" fill="#d50590"/><circle cx="673.0" cy="1579.4" r="6.5" fill="#e20385"/><circle cx="706.3" cy="1546.2" r="6.5" fill="#456aed"/><circle cx="680.0" cy="1581.9" r="6.5" fill="#f5046d"/><circle cx="669.3" cy="1577.6" r="6.5" fill="#fd0658"/><circle cx="713.6" cy="1541.1" r="6.5" fill="#5e5ce7"/><circle cx="706.6" cy="1563.0" r="6.5" fill="#2a77f3"/><circle cx="702.8" cy="1577.1" r="6.5" fill="#7947d7"/><circle cx="709.9" cy="1543.5" r="6.5" fill="#615be6"/><circle cx="713.7" cy="1580.0" r="6.5" fill="#2579f3"/><circle cx="713.8" cy="1557.8" r="6.5" fill="#1081f6"/><circle cx="702.7" cy="1543.1" r="6.5" fill="#b015a4"/><circle cx="709.4" cy="1603.8" r="6.5" fill="#932ec0"/><circle cx="684.0" cy="1583.9" r="6.5" fill="#fc055a"/><circle cx="701.9" cy="1570.6" r="6.5" fill="#406def"/><circle cx="669.2" cy="1563.0" r="6.5" fill="#de0389"/><circle cx="684.4" cy="1579.7" r="6.5" fill="#fe0654"/><circle cx="712.8" cy="1534.9" r="6.5" fill="#227af4"/><circle cx="698.9" cy="1574.3" r="6.5" fill="#b313a1"/><circle cx="676.7" cy="1581.2" r="6.5" fill="#fe0654"/><circle cx="687.2" cy="1587.2" r="6.5" fill="#bb109e"/><circle cx="691.3" cy="1545.8" r="6.5" fill="#932ec0"/><circle cx="680.1" cy="1577.3" r="6.5" fill="#fe0654"/><circle cx="709.1" cy="1598.2" r="6.5" fill="#167ff6"/><circle cx="706.5" cy="1541.0" r="6.5" fill="#8839ca"/><circle cx="709.4" cy="1555.3" r="6.5" fill="#6e50de"/><circle cx="713.3" cy="1574.5" r="6.5" fill="#6558e4"/><circle cx="706.2" cy="1573.6" r="6.5" fill="#744bda"/><circle cx="688.1" cy="1582.5" r="6.5" fill="#a71dad"/><circle cx="716.9" cy="1544.2" r="6.5" fill="#5e5ce7"/><circle cx="673.5" cy="1576.1" r="6.5" fill="#ea027d"/><circle cx="706.4" cy="1601.6" r="6.5" fill="#833ecf"/><circle cx="691.0" cy="1568.4" r="6.5" fill="#8041d2"/><circle cx="694.5" cy="1555.2" r="6.5" fill="#b115a3"/><circle cx="702.3" cy="1536.3" r="6.5" fill="#6855e2"/><circle cx="694.4" cy="1571.3" r="6.5" fill="#a91baa"/><circle cx="828.8" cy="1576.4" r="6.5" fill="#0c83f5"/><circle cx="864.9" cy="1571.0" r="6.5" fill="#0c83f5"/><circle cx="720.2" cy="1565.5" r="6.5" fill="#0f82f5"/><circle cx="876.2" cy="1574.3" r="6.5" fill="#0a84f5"/><circle cx="738.1" cy="1573.2" r="6.5" fill="#0d83f5"/><circle cx="828.7" cy="1565.4" r="6.5" fill="#0d83f5"/><circle cx="720.7" cy="1571.6" r="6.5" fill="#1082f6"/><circle cx="735.0" cy="1557.0" r="6.5" fill="#0d83f5"/><circle cx="735.0" cy="1565.0" r="6.5" fill="#0a84f5"/><circle cx="760.3" cy="1566.2" r="6.5" fill="#0b84f5"/><circle cx="821.0" cy="1571.2" r="6.5" fill="#0a84f5"/><circle cx="879.3" cy="1575.9" r="6.5" fill="#0a84f5"/><circle cx="763.9" cy="1565.7" r="6.5" fill="#0a84f5"/><circle cx="836.0" cy="1560.5" r="6.5" fill="#0d83f5"/><circle cx="854.0" cy="1576.2" r="6.5" fill="#0a84f5"/><circle cx="749.2" cy="1571.3" r="6.5" fill="#0a84f5"/><circle cx="817.9" cy="1574.2" r="6.5" fill="#0a84f5"/><circle cx="825.2" cy="1560.5" r="6.5" fill="#0a84f5"/><circle cx="778.3" cy="1562.8" r="6.5" fill="#0a84f5"/><circle cx="781.9" cy="1574.6" r="6.5" fill="#0b84f5"/><circle cx="901.2" cy="1565.4" r="6.5" fill="#0c83f5"/><circle cx="836.6" cy="1576.7" r="6.5" fill="#0b84f5"/><circle cx="728.0" cy="1580.6" r="6.5" fill="#0a84f5"/><circle cx="753.1" cy="1564.2" r="6.5" fill="#0d83f5"/><circle cx="926.6" cy="1568.0" r="6.5" fill="#0a84f5"/><circle cx="843.2" cy="1576.3" r="6.5" fill="#0a84f5"/><circle cx="792.3" cy="1575.3" r="6.5" fill="#0a84f5"/><circle cx="940.6" cy="1565.2" r="6.5" fill="#0b83f5"/><circle cx="886.5" cy="1575.6" r="6.5" fill="#0a84f5"/><circle cx="741.9" cy="1570.9" r="6.5" fill="#0a84f5"/><circle cx="885.9" cy="1576.2" r="6.5" fill="#0b84f5"/><circle cx="854.0" cy="1560.6" r="6.5" fill="#0a84f5"/><circle cx="948.2" cy="1569.1" r="6.5" fill="#0d83f5"/><circle cx="821.1" cy="1565.4" r="6.5" fill="#0a84f5"/><circle cx="868.5" cy="1560.8" r="6.5" fill="#0d83f5"/><circle cx="746.1" cy="1574.5" r="6.5" fill="#0a84f5"/><circle cx="907.7" cy="1571.4" r="6.5" fill="#0a84f5"/><circle cx="882.7" cy="1568.0" r="6.5" fill="#0b84f5"/><circle cx="875.7" cy="1562.2" r="6.5" fill="#0c83f5"/><circle cx="897.4" cy="1574.3" r="6.5" fill="#0a84f5"/><circle cx="849.9" cy="1576.7" r="6.5" fill="#0b83f5"/><circle cx="738.1" cy="1569.1" r="6.5" fill="#0c83f5"/><circle cx="803.5" cy="1574.2" r="6.5" fill="#0a84f5"/><circle cx="915.7" cy="1571.1" r="6.5" fill="#0b83f5"/><circle cx="864.8" cy="1560.7" r="6.5" fill="#0a84f5"/><circle cx="879.8" cy="1565.9" r="6.5" fill="#0a84f5"/><circle cx="803.5" cy="1576.1" r="6.5" fill="#0d83f5"/><circle cx="760.3" cy="1570.6" r="6.5" fill="#0a84f5"/><circle cx="728.1" cy="1576.7" r="6.5" fill="#0a84f5"/><circle cx="919.4" cy="1568.1" r="6.5" fill="#0a84f5"/><circle cx="785.6" cy="1575.0" r="6.5" fill="#0b84f5"/><circle cx="918.8" cy="1574.1" r="6.5" fill="#0a84f5"/><circle cx="749.5" cy="1562.6" r="6.5" fill="#0c83f5"/><circle cx="854.2" cy="1573.5" r="6.5" fill="#0a84f5"/><circle cx="778.5" cy="1573.6" r="6.5" fill="#0b83f5"/><circle cx="832.9" cy="1573.9" r="6.5" fill="#0d83f5"/><circle cx="731.4" cy="1580.3" r="6.5" fill="#0a84f5"/><circle cx="944.2" cy="1565.8" r="6.5" fill="#0d83f5"/><circle cx="882.5" cy="1574.0" r="6.5" fill="#0a84f5"/><circle cx="846.8" cy="1576.2" r="6.5" fill="#0a84f5"/><circle cx="741.8" cy="1577.1" r="6.5" fill="#0a84f5"/><circle cx="882.3" cy="1563.0" r="6.5" fill="#0a84f5"/><circle cx="717.0" cy="1578.9" r="6.5" fill="#1181f6"/><circle cx="894.1" cy="1565.9" r="6.5" fill="#0a84f5"/><circle cx="807.2" cy="1576.1" r="6.5" fill="#0a84f5"/><circle cx="753.1" cy="1572.6" r="6.5" fill="#0d83f5"/><circle cx="893.7" cy="1575.3" r="6.5" fill="#0a84f5"/><circle cx="911.3" cy="1573.4" r="6.5" fill="#0a84f5"/><circle cx="778.1" cy="1565.2" r="6.5" fill="#0d83f5"/><circle cx="915.3" cy="1562.5" r="6.5" fill="#0a84f5"/><circle cx="810.9" cy="1574.2" r="6.5" fill="#0b84f5"/><circle cx="716.4" cy="1563.5" r="6.5" fill="#1181f6"/><circle cx="868.4" cy="1568.4" r="6.5" fill="#0a84f5"/><circle cx="904.6" cy="1573.7" r="6.5" fill="#0c83f5"/><circle cx="846.9" cy="1568.3" r="6.5" fill="#0a84f5"/><circle cx="814.0" cy="1576.5" r="6.5" fill="#0a84f5"/><circle cx="858.1" cy="1565.8" r="6.5" fill="#0a84f5"/><circle cx="763.9" cy="1571.1" r="6.5" fill="#0a84f5"/><circle cx="807.4" cy="1571.0" r="6.5" fill="#0d83f5"/><circle cx="864.4" cy="1565.8" r="6.5" fill="#0b83f5"/><circle cx="882.9" cy="1575.8" r="6.5" fill="#0a84f5"/><circle cx="871.8" cy="1571.4" r="6.5" fill="#0a84f5"/><circle cx="727.8" cy="1580.0" r="6.5" fill="#0a84f5"/><circle cx="929.8" cy="1573.2" r="6.5" fill="#0a84f5"/><circle cx="904.6" cy="1568.8" r="6.5" fill="#0a84f5"/><circle cx="871.9" cy="1565.5" r="6.5" fill="#0a84f5"/><circle cx="795.9" cy="1573.7" r="6.5" fill="#0a84f5"/><circle cx="864.8" cy="1576.1" r="6.5" fill="#0c83f5"/><circle cx="901.1" cy="1575.5" r="6.5" fill="#0b83f5"/><circle cx="803.5" cy="1560.7" r="6.5" fill="#0c83f5"/><circle cx="821.3" cy="1576.2" r="6.5" fill="#0a84f5"/><circle cx="731.5" cy="1568.5" r="6.5" fill="#0a84f5"/><circle cx="843.2" cy="1560.5" r="6.5" fill="#0c83f5"/><circle cx="882.9" cy="1561.0" r="6.5" fill="#0a84f5"/><circle cx="778.1" cy="1571.6" r="6.5" fill="#0a84f5"/><circle cx="749.5" cy="1574.6" r="6.5" fill="#0a84f5"/><circle cx="850.9" cy="1571.3" r="6.5" fill="#0a84f5"/><circle cx="799.5" cy="1565.4" r="6.5" fill="#0b84f5"/><circle cx="724.2" cy="1579.7" r="6.5" fill="#0a84f5"/><circle cx="875.7" cy="1575.9" r="6.5" fill="#0c83f5"/><circle cx="897.3" cy="1575.1" r="6.5" fill="#0a84f5"/><circle cx="756.7" cy="1571.6" r="6.5" fill="#0b84f5"/><circle cx="842.9" cy="1576.7" r="6.5" fill="#0a84f5"/><circle cx="894.2" cy="1571.6" r="6.5" fill="#0a84f5"/><circle cx="839.2" cy="1573.6" r="6.5" fill="#0c83f5"/><circle cx="799.9" cy="1576.0" r="6.5" fill="#0a84f5"/><circle cx="734.5" cy="1577.1" r="6.5" fill="#0d83f5"/><circle cx="929.7" cy="1568.5" r="6.5" fill="#0a84f5"/><circle cx="857.8" cy="1576.4" r="6.5" fill="#0a84f5"/><circle cx="796.3" cy="1560.8" r="6.5" fill="#0a84f5"/><circle cx="897.8" cy="1567.9" r="6.5" fill="#0a84f5"/><circle cx="864.7" cy="1575.9" r="6.5" fill="#0a84f5"/><circle cx="846.3" cy="1563.0" r="6.5" fill="#0a84f5"/><circle cx="799.9" cy="1560.8" r="6.5" fill="#0b84f5"/><circle cx="879.2" cy="1575.2" r="6.5" fill="#0a84f5"/><circle cx="821.6" cy="1576.3" r="6.5" fill="#0a84f5"/><circle cx="781.9" cy="1574.1" r="6.5" fill="#0b84f5"/><circle cx="774.7" cy="1563.5" r="6.5" fill="#0a84f5"/><circle cx="771.1" cy="1572.7" r="6.5" fill="#0a84f5"/><circle cx="933.4" cy="1572.6" r="6.5" fill="#0c83f5"/><circle cx="886.9" cy="1571.3" r="6.5" fill="#0a84f5"/><circle cx="799.9" cy="1571.7" r="6.5" fill="#0b84f5"/><circle cx="749.7" cy="1565.9" r="6.5" fill="#0a84f5"/><circle cx="919.0" cy="1563.6" r="6.5" fill="#0c83f5"/><circle cx="905.0" cy="1562.2" r="6.5" fill="#0a84f5"/><circle cx="933.9" cy="1568.4" r="6.5" fill="#0a84f5"/><circle cx="724.4" cy="1578.8" r="6.5" fill="#0a84f5"/><circle cx="897.3" cy="1561.7" r="6.5" fill="#0b84f5"/><circle cx="850.4" cy="1576.2" r="6.5" fill="#0b83f5"/><circle cx="825.2" cy="1573.6" r="6.5" fill="#0d83f5"/><circle cx="742.2" cy="1577.8" r="6.5" fill="#0a84f5"/><circle cx="731.0" cy="1563.1" r="6.5" fill="#0b84f5"/><circle cx="756.7" cy="1565.2" r="6.5" fill="#0d83f5"/><circle cx="955.5" cy="1568.5" r="6.5" fill="#0a84f5"/><circle cx="774.6" cy="1569.0" r="6.5" fill="#0b84f5"/><circle cx="767.5" cy="1571.9" r="6.5" fill="#0a84f5"/><circle cx="764.5" cy="1568.4" r="6.5" fill="#0a84f5"/><circle cx="828.8" cy="1560.4" r="6.5" fill="#0c83f5"/><circle cx="730.9" cy="1573.6" r="6.5" fill="#0a84f5"/><circle cx="893.7" cy="1575.1" r="6.5" fill="#0a84f5"/><circle cx="871.6" cy="1575.3" r="6.5" fill="#0c83f5"/><circle cx="908.5" cy="1574.3" r="6.5" fill="#0a84f5"/><circle cx="872.1" cy="1576.0" r="6.5" fill="#0c83f5"/><circle cx="846.8" cy="1560.6" r="6.5" fill="#0a84f5"/><circle cx="875.5" cy="1569.0" r="6.5" fill="#0a84f5"/><circle cx="771.1" cy="1564.1" r="6.5" fill="#0d83f5"/><circle cx="792.5" cy="1571.3" r="6.5" fill="#0a84f5"/><circle cx="796.3" cy="1576.0" r="6.5" fill="#0c83f5"/><circle cx="886.4" cy="1566.1" r="6.5" fill="#0b84f5"/><circle cx="782.0" cy="1568.1" r="6.5" fill="#0d83f5"/><circle cx="746.3" cy="1568.6" r="6.5" fill="#0a84f5"/><circle cx="857.6" cy="1560.7" r="6.5" fill="#0c83f5"/><circle cx="875.7" cy="1560.9" r="6.5" fill="#0a84f5"/><circle cx="774.7" cy="1573.3" r="6.5" fill="#0a84f5"/><circle cx="908.1" cy="1562.1" r="6.5" fill="#0a84f5"/><circle cx="716.5" cy="1569.0" r="6.5" fill="#0e83f5"/><circle cx="890.1" cy="1575.5" r="6.5" fill="#0c83f5"/><circle cx="731.4" cy="1557.0" r="6.5" fill="#0d83f5"/><circle cx="814.1" cy="1571.1" r="6.5" fill="#0d83f5"/><circle cx="825.4" cy="1567.8" r="6.5" fill="#0c83f5"/><circle cx="843.2" cy="1565.8" r="6.5" fill="#0c83f5"/><circle cx="739.1" cy="1563.0" r="6.5" fill="#0d83f5"/><circle cx="795.8" cy="1563.0" r="6.5" fill="#0a84f5"/><circle cx="868.1" cy="1574.1" r="6.5" fill="#0a84f5"/><circle cx="818.0" cy="1560.6" r="6.5" fill="#0a84f5"/><circle cx="839.6" cy="1560.5" r="6.5" fill="#0a84f5"/><circle cx="951.5" cy="1567.7" r="6.5" fill="#0b83f5"/><circle cx="741.7" cy="1565.2" r="6.5" fill="#0a84f5"/><circle cx="814.4" cy="1576.2" r="6.5" fill="#0a84f5"/><circle cx="904.5" cy="1562.0" r="6.5" fill="#0a84f5"/><circle cx="915.0" cy="1574.8" r="6.5" fill="#0a84f5"/><circle cx="944.5" cy="1568.0" r="6.5" fill="#0a84f5"/><circle cx="868.5" cy="1576.0" r="6.5" fill="#0b83f5"/><circle cx="850.7" cy="1566.3" r="6.5" fill="#0c83f5"/><circle cx="803.3" cy="1568.9" r="6.5" fill="#0a84f5"/><circle cx="915.3" cy="1574.3" r="6.5" fill="#0a84f5"/><circle cx="886.5" cy="1561.2" r="6.5" fill="#0a84f5"/><circle cx="770.5" cy="1568.3" r="6.5" fill="#0c83f5"/><circle cx="922.1" cy="1574.0" r="6.5" fill="#0a84f5"/><circle cx="731.4" cy="1579.7" r="6.5" fill="#0a84f5"/><circle cx="890.2" cy="1573.7" r="6.5" fill="#0a84f5"/><circle cx="857.6" cy="1576.1" r="6.5" fill="#0d83f5"/><circle cx="831.9" cy="1562.8" r="6.5" fill="#0a84f5"/><circle cx="781.9" cy="1562.2" r="6.5" fill="#0c83f5"/><circle cx="734.9" cy="1580.1" r="6.5" fill="#0a84f5"/><circle cx="724.0" cy="1562.6" r="6.5" fill="#0e82f5"/><circle cx="850.4" cy="1560.6" r="6.5" fill="#0a84f5"/><circle cx="922.4" cy="1566.2" r="6.5" fill="#0a84f5"/><circle cx="861.2" cy="1560.7" r="6.5" fill="#0a84f5"/><circle cx="789.1" cy="1561.0" r="6.5" fill="#0a84f5"/><circle cx="839.1" cy="1569.1" r="6.5" fill="#0d83f5"/><circle cx="879.3" cy="1560.9" r="6.5" fill="#0a84f5"/><circle cx="897.5" cy="1563.5" r="6.5" fill="#0c83f5"/><circle cx="720.6" cy="1579.3" r="6.5" fill="#0f82f5"/><circle cx="832.4" cy="1560.4" r="6.5" fill="#0b84f5"/><circle cx="868.2" cy="1563.5" r="6.5" fill="#0b83f5"/><circle cx="767.7" cy="1568.3" r="6.5" fill="#0b84f5"/><circle cx="890.1" cy="1561.3" r="6.5" fill="#0c83f5"/><circle cx="933.4" cy="1564.2" r="6.5" fill="#0c83f5"/><circle cx="785.5" cy="1565.7" r="6.5" fill="#0d83f5"/><circle cx="724.3" cy="1574.4" r="6.5" fill="#0d83f5"/><circle cx="854.5" cy="1562.5" r="6.5" fill="#0a84f5"/><circle cx="785.5" cy="1575.2" r="6.5" fill="#0b84f5"/><circle cx="861.7" cy="1562.3" r="6.5" fill="#0a84f5"/><circle cx="738.6" cy="1558.0" r="6.5" fill="#0a84f5"/><circle cx="857.9" cy="1571.3" r="6.5" fill="#0a84f5"/><circle cx="940.7" cy="1568.5" r="6.5" fill="#0a84f5"/><circle cx="832.4" cy="1576.4" r="6.5" fill="#0a84f5"/><circle cx="800.2" cy="1575.9" r="6.5" fill="#0a84f5"/><circle cx="749.5" cy="1574.2" r="6.5" fill="#0a84f5"/><circle cx="807.3" cy="1565.6" r="6.5" fill="#0b84f5"/><circle cx="900.9" cy="1570.5" r="6.5" fill="#0a84f5"/><circle cx="878.7" cy="1571.1" r="6.5" fill="#0a84f5"/><circle cx="911.6" cy="1568.3" r="6.5" fill="#0a84f5"/><circle cx="720.6" cy="1557.5" r="6.5" fill="#0b84f5"/><circle cx="911.7" cy="1574.5" r="6.5" fill="#0a84f5"/><circle cx="727.5" cy="1570.5" r="6.5" fill="#0a84f5"/><circle cx="723.8" cy="1558.0" r="6.5" fill="#0a84f5"/><circle cx="853.5" cy="1568.1" r="6.5" fill="#0a84f5"/><circle cx="810.6" cy="1562.6" r="6.5" fill="#0b84f5"/><circle cx="746.1" cy="1562.5" r="6.5" fill="#0c83f5"/><circle cx="937.0" cy="1572.1" r="6.5" fill="#0c83f5"/><circle cx="908.3" cy="1565.7" r="6.5" fill="#0a84f5"/><circle cx="836.6" cy="1571.3" r="6.5" fill="#0a84f5"/><circle cx="825.8" cy="1562.3" r="6.5" fill="#0a84f5"/><circle cx="890.3" cy="1568.1" r="6.5" fill="#0a84f5"/><circle cx="904.5" cy="1574.8" r="6.5" fill="#0c83f5"/><circle cx="839.6" cy="1576.3" r="6.5" fill="#0a84f5"/><circle cx="810.8" cy="1560.6" r="6.5" fill="#0a84f5"/><circle cx="716.7" cy="1573.6" r="6.5" fill="#0d83f5"/><circle cx="912.2" cy="1562.6" r="6.5" fill="#0a84f5"/><circle cx="745.8" cy="1576.0" r="6.5" fill="#0d83f5"/><circle cx="742.2" cy="1559.0" r="6.5" fill="#0a84f5"/><circle cx="944.2" cy="1571.0" r="6.5" fill="#0b84f5"/><circle cx="889.5" cy="1562.3" r="6.5" fill="#0a84f5"/><circle cx="926.2" cy="1563.1" r="6.5" fill="#0a84f5"/><circle cx="828.8" cy="1576.0" r="6.5" fill="#0d83f5"/><circle cx="735.0" cy="1579.8" r="6.5" fill="#0a84f5"/><circle cx="793.1" cy="1565.7" r="6.5" fill="#0a84f5"/><circle cx="937.0" cy="1564.7" r="6.5" fill="#0d83f5"/><circle cx="915.4" cy="1566.2" r="6.5" fill="#0c83f5"/><circle cx="908.1" cy="1574.7" r="6.5" fill="#0a84f5"/><circle cx="918.9" cy="1574.2" r="6.5" fill="#0a84f5"/><circle cx="785.5" cy="1561.6" r="6.5" fill="#0a84f5"/><circle cx="720.7" cy="1577.2" r="6.5" fill="#0c83f5"/><circle cx="937.2" cy="1568.8" r="6.5" fill="#0a84f5"/><circle cx="724.1" cy="1567.9" r="6.5" fill="#0a84f5"/><circle cx="759.8" cy="1568.4" r="6.5" fill="#0c83f5"/><circle cx="817.5" cy="1567.9" r="6.5" fill="#0a84f5"/><circle cx="734.5" cy="1560.4" r="6.5" fill="#0a84f5"/><circle cx="789.1" cy="1575.8" r="6.5" fill="#0a84f5"/><circle cx="828.5" cy="1571.7" r="6.5" fill="#0c83f5"/><circle cx="811.1" cy="1568.1" r="6.5" fill="#0b84f5"/><circle cx="795.8" cy="1568.0" r="6.5" fill="#0b84f5"/><circle cx="929.8" cy="1563.6" r="6.5" fill="#0a84f5"/><circle cx="922.5" cy="1571.0" r="6.5" fill="#0d83f5"/><circle cx="900.9" cy="1561.8" r="6.5" fill="#0c83f5"/><circle cx="922.5" cy="1562.8" r="6.5" fill="#0a84f5"/><circle cx="918.9" cy="1562.6" r="6.5" fill="#0a84f5"/><circle cx="757.2" cy="1568.6" r="6.5" fill="#0a84f5"/><circle cx="825.2" cy="1576.3" r="6.5" fill="#0a84f5"/><circle cx="860.9" cy="1568.5" r="6.5" fill="#0b84f5"/><circle cx="807.6" cy="1576.8" r="6.5" fill="#0a84f5"/><circle cx="788.7" cy="1568.7" r="6.5" fill="#0c83f5"/><circle cx="810.8" cy="1576.2" r="6.5" fill="#0a84f5"/><circle cx="734.6" cy="1571.4" r="6.5" fill="#0a84f5"/><circle cx="738.6" cy="1578.8" r="6.5" fill="#0a84f5"/><circle cx="792.7" cy="1560.9" r="6.5" fill="#0a84f5"/><circle cx="818.0" cy="1576.2" r="6.5" fill="#0c83f5"/><circle cx="821.6" cy="1560.5" r="6.5" fill="#0a84f5"/><circle cx="807.2" cy="1560.7" r="6.5" fill="#0a84f5"/><circle cx="727.5" cy="1565.5" r="6.5" fill="#0c83f5"/><circle cx="900.9" cy="1575.0" r="6.5" fill="#0b84f5"/><circle cx="872.1" cy="1560.8" r="6.5" fill="#0b84f5"/><circle cx="922.5" cy="1574.0" r="6.5" fill="#0b84f5"/><circle cx="861.2" cy="1576.1" r="6.5" fill="#0b84f5"/><circle cx="814.2" cy="1566.0" r="6.5" fill="#0a84f5"/><circle cx="861.8" cy="1573.8" r="6.5" fill="#0a84f5"/><circle cx="832.3" cy="1568.6" r="6.5" fill="#0c83f5"/><circle cx="727.8" cy="1556.8" r="6.5" fill="#0a84f5"/><circle cx="717.0" cy="1557.9" r="6.5" fill="#0f82f6"/><circle cx="752.6" cy="1568.6" r="6.5" fill="#0a84f5"/><circle cx="836.0" cy="1576.3" r="6.5" fill="#0a84f5"/><circle cx="940.6" cy="1571.6" r="6.5" fill="#0a84f5"/><circle cx="814.4" cy="1560.6" r="6.5" fill="#0c83f5"/><circle cx="840.0" cy="1562.3" r="6.5" fill="#0a84f5"/><circle cx="893.7" cy="1561.5" r="6.5" fill="#0b84f5"/><circle cx="778.3" cy="1574.0" r="6.5" fill="#0a84f5"/><circle cx="724.2" cy="1557.1" r="6.5" fill="#0e83f5"/><circle cx="792.7" cy="1575.9" r="6.5" fill="#0a84f5"/><circle cx="767.5" cy="1564.9" r="6.5" fill="#0a84f5"/><circle cx="727.7" cy="1559.8" r="6.5" fill="#0a84f5"/><circle cx="847.1" cy="1574.2" r="6.5" fill="#0b84f5"/><circle cx="731.4" cy="1556.5" r="6.5" fill="#0a84f5"/><circle cx="782.0" cy="1563.1" r="6.5" fill="#0a84f5"/><circle cx="803.2" cy="1563.2" r="6.5" fill="#0a84f5"/><circle cx="789.3" cy="1574.2" r="6.5" fill="#0b84f5"/><circle cx="818.5" cy="1562.5" r="6.5" fill="#0b84f5"/><circle cx="789.3" cy="1562.2" r="6.5" fill="#0a84f5"/><circle cx="745.8" cy="1560.8" r="6.5" fill="#0c83f5"/><circle cx="911.7" cy="1562.3" r="6.5" fill="#0b84f5"/><circle cx="926.2" cy="1573.7" r="6.5" fill="#0a84f5"/><circle cx="785.8" cy="1571.8" r="6.5" fill="#0a84f5"/><circle cx="843.8" cy="1571.1" r="6.5" fill="#0c83f5"/><circle cx="835.4" cy="1565.1" r="6.5" fill="#0a84f5"/><circle cx="969.0" cy="1568.4" r="6.5" fill="#0a84f5"/><circle cx="978.0" cy="1568.4" r="6.5" fill="#0b84f5"/><circle cx="987.0" cy="1568.4" r="6.5" fill="#0a84f5"/><circle cx="1035.9" cy="1568.4" r="6.5" fill="#0a84f5"/><circle cx="1010.4" cy="1568.8" r="6.5" fill="#0b84f5"/><circle cx="1038.9" cy="1568.2" r="6.5" fill="#0c83f5"/><circle cx="1004.0" cy="1568.5" r="6.5" fill="#0a84f5"/><circle cx="1014.1" cy="1567.7" r="6.5" fill="#0a84f5"/><circle cx="1028.7" cy="1568.1" r="6.5" fill="#0a84f5"/><circle cx="1042.0" cy="1568.3" r="6.5" fill="#0a84f5"/><circle cx="1060.7" cy="1568.4" r="6.5" fill="#0a84f5"/><circle cx="999.5" cy="1568.6" r="6.5" fill="#0b84f5"/><circle cx="1081.6" cy="1568.4" r="6.5" fill="#0c83f5"/><circle cx="1074.9" cy="1568.2" r="6.5" fill="#0a84f5"/><circle cx="1085.3" cy="1568.0" r="6.5" fill="#0a84f5"/><circle cx="1024.9" cy="1568.7" r="6.5" fill="#0c83f5"/><circle cx="1057.1" cy="1568.0" r="6.5" fill="#0a84f5"/><circle cx="1049.5" cy="1568.5" r="6.5" fill="#0b84f5"/><circle cx="1063.3" cy="1568.9" r="6.5" fill="#0b84f5"/><circle cx="1007.5" cy="1568.6" r="6.5" fill="#0c83f5"/><circle cx="1021.3" cy="1567.8" r="6.5" fill="#0a84f5"/><circle cx="1046.3" cy="1567.9" r="6.5" fill="#0a84f5"/><circle cx="1070.8" cy="1568.5" r="6.5" fill="#0a84f5"/><circle cx="1031.9" cy="1568.8" r="6.5" fill="#0a84f5"/><circle cx="1078.3" cy="1567.9" r="6.5" fill="#0a84f5"/><circle cx="1053.1" cy="1568.1" r="6.5" fill="#0a84f5"/><circle cx="1017.4" cy="1568.5" r="6.5" fill="#0a84f5"/><circle cx="1066.8" cy="1568.6" r="6.5" fill="#0a84f5"/><circle cx="1105.0" cy="1568.3" r="6.5" fill="#0b84f5"/><circle cx="1158.4" cy="1567.9" r="6.5" fill="#0b84f5"/><circle cx="1133.7" cy="1568.6" r="6.5" fill="#0a84f5"/><circle cx="1148.0" cy="1568.6" r="6.5" fill="#0a84f5"/><circle cx="1155.8" cy="1568.1" r="6.5" fill="#0a84f5"/><circle cx="1101.2" cy="1568.7" r="6.5" fill="#0b84f5"/><circle cx="1126.7" cy="1568.6" r="6.5" fill="#0b84f5"/><circle cx="1115.9" cy="1568.6" r="6.5" fill="#0a84f5"/><circle cx="1109.0" cy="1568.3" r="6.5" fill="#0a84f5"/><circle cx="1097.7" cy="1568.5" r="6.5" fill="#0a84f5"/><circle cx="1123.2" cy="1567.9" r="6.5" fill="#0b84f5"/><circle cx="1166.3" cy="1568.0" r="6.5" fill="#0c83f5"/><circle cx="1162.9" cy="1567.8" r="6.5" fill="#0a84f5"/><circle cx="1111.8" cy="1567.9" r="6.5" fill="#0b83f5"/><circle cx="1140.8" cy="1568.2" r="6.5" fill="#0b83f5"/><circle cx="1144.9" cy="1568.6" r="6.5" fill="#0b83f5"/><circle cx="1130.3" cy="1568.9" r="6.5" fill="#0c83f5"/><circle cx="1119.3" cy="1567.9" r="6.5" fill="#0c83f5"/><circle cx="1151.5" cy="1567.8" r="6.5" fill="#0b84f5"/><circle cx="1137.3" cy="1568.2" r="6.5" fill="#0b84f5"/><circle cx="299.0" cy="1676.4" r="6.5" fill="#fe0654"/><circle cx="321.0" cy="1676.4" r="6.5" fill="#fe0654"/><circle cx="328.0" cy="1676.4" r="6.5" fill="#fe0654"/><circle cx="480.0" cy="1676.0" r="6.5" fill="#e20385"/><circle cx="490.7" cy="1676.2" r="6.5" fill="#d20593"/><circle cx="537.2" cy="1674.2" r="6.5" fill="#fe0654"/><circle cx="462.4" cy="1675.7" r="6.5" fill="#fc055a"/><circle cx="530.0" cy="1678.8" r="6.5" fill="#fc055c"/><circle cx="346.7" cy="1676.4" r="6.5" fill="#e50283"/><circle cx="543.8" cy="1676.5" r="6.5" fill="#e00387"/><circle cx="558.9" cy="1676.8" r="6.5" fill="#d9048d"/><circle cx="436.9" cy="1676.4" r="6.5" fill="#fa0564"/><circle cx="440.2" cy="1676.7" r="6.5" fill="#fe0654"/><circle cx="418.4" cy="1676.2" r="6.5" fill="#fb055e"/><circle cx="522.8" cy="1679.5" r="6.5" fill="#fa0562"/><circle cx="476.7" cy="1676.5" r="6.5" fill="#fe0654"/><circle cx="540.8" cy="1674.3" r="6.5" fill="#fe0654"/><circle cx="551.7" cy="1675.8" r="6.5" fill="#f10372"/><circle cx="584.3" cy="1676.8" r="6.5" fill="#c10d9c"/><circle cx="562.1" cy="1677.0" r="6.5" fill="#fe0654"/><circle cx="433.7" cy="1676.0" r="6.5" fill="#fa0563"/><circle cx="533.4" cy="1676.3" r="6.5" fill="#d8048e"/><circle cx="386.9" cy="1676.6" r="6.5" fill="#fe0654"/><circle cx="554.8" cy="1676.2" r="6.5" fill="#fe0654"/><circle cx="512.1" cy="1672.7" r="6.5" fill="#fc055b"/><circle cx="540.8" cy="1678.5" r="6.5" fill="#d30591"/><circle cx="497.7" cy="1678.7" r="6.5" fill="#ef0376"/><circle cx="501.3" cy="1673.8" r="6.5" fill="#d40591"/><circle cx="529.8" cy="1676.1" r="6.5" fill="#f00374"/><circle cx="358.1" cy="1676.7" r="6.5" fill="#c90898"/><circle cx="407.9" cy="1676.4" r="6.5" fill="#ef0376"/><circle cx="487.3" cy="1675.8" r="6.5" fill="#fa0562"/><circle cx="547.8" cy="1676.3" r="6.5" fill="#fe0654"/><circle cx="447.3" cy="1676.3" r="6.5" fill="#fe0654"/><circle cx="508.2" cy="1676.2" r="6.5" fill="#fd0658"/><circle cx="590.8" cy="1677.0" r="6.5" fill="#d9048d"/><circle cx="587.6" cy="1676.8" r="6.5" fill="#e20386"/><circle cx="368.7" cy="1676.1" r="6.5" fill="#e9027e"/><circle cx="504.9" cy="1679.4" r="6.5" fill="#dc048b"/><circle cx="353.9" cy="1675.9" r="6.5" fill="#f6046c"/><circle cx="540.4" cy="1676.8" r="6.5" fill="#fc055a"/><circle cx="365.1" cy="1676.4" r="6.5" fill="#d8048e"/><circle cx="522.7" cy="1675.8" r="6.5" fill="#fe0654"/><circle cx="533.6" cy="1674.1" r="6.5" fill="#fd0659"/><circle cx="515.6" cy="1672.5" r="6.5" fill="#e9027e"/><circle cx="412.1" cy="1676.0" r="6.5" fill="#eb037a"/><circle cx="526.3" cy="1676.5" r="6.5" fill="#fa0563"/><circle cx="425.9" cy="1676.5" r="6.5" fill="#f90466"/><circle cx="566.3" cy="1676.4" r="6.5" fill="#fe0654"/><circle cx="455.1" cy="1675.8" r="6.5" fill="#db048b"/><circle cx="493.9" cy="1676.3" r="6.5" fill="#fe0655"/><circle cx="450.6" cy="1675.7" r="6.5" fill="#fe0654"/><circle cx="390.4" cy="1676.3" r="6.5" fill="#fe0654"/><circle cx="537.2" cy="1678.6" r="6.5" fill="#e20385"/><circle cx="501.3" cy="1675.8" r="6.5" fill="#fe0654"/><circle cx="526.4" cy="1679.1" r="6.5" fill="#fe0654"/><circle cx="519.2" cy="1679.9" r="6.5" fill="#fe0654"/><circle cx="508.5" cy="1679.7" r="6.5" fill="#fe0654"/><circle cx="511.9" cy="1677.0" r="6.5" fill="#f10372"/><circle cx="501.3" cy="1679.0" r="6.5" fill="#f90465"/><circle cx="350.4" cy="1676.4" r="6.5" fill="#e30284"/><circle cx="415.4" cy="1676.6" r="6.5" fill="#fe0654"/><circle cx="482.9" cy="1676.0" r="6.5" fill="#c80998"/><circle cx="375.7" cy="1675.8" r="6.5" fill="#df0388"/><circle cx="443.9" cy="1676.5" r="6.5" fill="#f90466"/><circle cx="465.8" cy="1676.4" r="6.5" fill="#fe0654"/><circle cx="519.6" cy="1675.7" r="6.5" fill="#f7046b"/><circle cx="580.3" cy="1677.0" r="6.5" fill="#d6058f"/><circle cx="504.9" cy="1673.4" r="6.5" fill="#fe0654"/><circle cx="497.3" cy="1676.8" r="6.5" fill="#fe0654"/><circle cx="429.6" cy="1676.5" r="6.5" fill="#f10372"/><circle cx="397.6" cy="1675.9" r="6.5" fill="#dd0389"/><circle cx="522.8" cy="1673.3" r="6.5" fill="#fa0562"/><circle cx="530.0" cy="1674.0" r="6.5" fill="#fe0654"/><circle cx="469.5" cy="1677.1" r="6.5" fill="#fa0561"/><circle cx="404.5" cy="1675.8" r="6.5" fill="#ed0379"/><circle cx="515.1" cy="1676.5" r="6.5" fill="#f90465"/><circle cx="400.4" cy="1676.5" r="6.5" fill="#fc055a"/><circle cx="573.1" cy="1676.5" r="6.5" fill="#fe0654"/><circle cx="504.4" cy="1675.8" r="6.5" fill="#fe0654"/><circle cx="533.6" cy="1678.7" r="6.5" fill="#fe0654"/><circle cx="393.9" cy="1676.9" r="6.5" fill="#fe0654"/><circle cx="422.3" cy="1675.8" r="6.5" fill="#ca0898"/><circle cx="497.7" cy="1674.1" r="6.5" fill="#df0388"/><circle cx="458.7" cy="1676.5" r="6.5" fill="#e20385"/><circle cx="519.2" cy="1672.9" r="6.5" fill="#fe0654"/><circle cx="512.1" cy="1680.1" r="6.5" fill="#fe0654"/><circle cx="361.2" cy="1676.6" r="6.5" fill="#d30591"/><circle cx="379.1" cy="1675.9" r="6.5" fill="#fb055d"/><circle cx="526.4" cy="1673.7" r="6.5" fill="#fb055d"/><circle cx="536.7" cy="1676.6" r="6.5" fill="#d30592"/><circle cx="371.9" cy="1676.1" r="6.5" fill="#d50590"/><circle cx="515.6" cy="1680.3" r="6.5" fill="#fc055c"/><circle cx="576.8" cy="1675.9" r="6.5" fill="#ba109e"/><circle cx="508.5" cy="1673.1" r="6.5" fill="#e30284"/><circle cx="383.3" cy="1676.8" r="6.5" fill="#fe0654"/><circle cx="472.2" cy="1676.4" r="6.5" fill="#f4046f"/><circle cx="570.0" cy="1676.9" r="6.5" fill="#fe0654"/><circle cx="700.2" cy="1675.8" r="6.5" fill="#a420b0"/><circle cx="682.2" cy="1677.1" r="6.5" fill="#d50590"/><circle cx="689.2" cy="1677.0" r="6.5" fill="#b8119f"/><circle cx="653.8" cy="1676.6" r="6.5" fill="#d00694"/><circle cx="713.9" cy="1675.7" r="6.5" fill="#932ec0"/><circle cx="678.4" cy="1675.7" r="6.5" fill="#ec0379"/><circle cx="646.6" cy="1677.0" r="6.5" fill="#f00374"/><circle cx="725.0" cy="1673.9" r="6.5" fill="#bf0d9c"/><circle cx="668.3" cy="1676.8" r="6.5" fill="#fa0563"/><circle cx="671.3" cy="1675.7" r="6.5" fill="#de0389"/><circle cx="721.4" cy="1678.7" r="6.5" fill="#be0e9d"/><circle cx="697.0" cy="1676.3" r="6.5" fill="#a41faf"/><circle cx="638.6" cy="1676.3" r="6.5" fill="#cd0797"/><circle cx="632.0" cy="1676.0" r="6.5" fill="#dc048b"/><circle cx="718.3" cy="1676.1" r="6.5" fill="#a122b3"/><circle cx="624.7" cy="1676.6" r="6.5" fill="#ad18a6"/><circle cx="717.8" cy="1674.3" r="6.5" fill="#a41faf"/><circle cx="725.0" cy="1678.9" r="6.5" fill="#b115a3"/><circle cx="692.2" cy="1676.2" r="6.5" fill="#af16a5"/><circle cx="607.1" cy="1675.8" r="6.5" fill="#e40283"/><circle cx="613.6" cy="1676.7" r="6.5" fill="#d20593"/><circle cx="703.4" cy="1675.9" r="6.5" fill="#bf0e9d"/><circle cx="711.3" cy="1676.0" r="6.5" fill="#ae17a6"/><circle cx="611.0" cy="1676.9" r="6.5" fill="#a022b3"/><circle cx="725.3" cy="1676.7" r="6.5" fill="#a220b1"/><circle cx="664.4" cy="1676.5" r="6.5" fill="#f10372"/><circle cx="717.8" cy="1678.5" r="6.5" fill="#8b36c8"/><circle cx="649.3" cy="1676.9" r="6.5" fill="#e9027d"/><circle cx="621.5" cy="1676.6" r="6.5" fill="#ea027d"/><circle cx="656.9" cy="1675.8" r="6.5" fill="#ea027c"/><circle cx="675.1" cy="1676.9" r="6.5" fill="#dc048a"/><circle cx="707.0" cy="1676.8" r="6.5" fill="#9f23b4"/><circle cx="721.4" cy="1674.1" r="6.5" fill="#8839ca"/><circle cx="642.4" cy="1676.0" r="6.5" fill="#dc048a"/><circle cx="721.5" cy="1675.8" r="6.5" fill="#8e33c4"/><circle cx="628.9" cy="1676.7" r="6.5" fill="#f5046c"/><circle cx="660.1" cy="1676.7" r="6.5" fill="#f90466"/><circle cx="635.8" cy="1676.5" r="6.5" fill="#ba109e"/><circle cx="686.1" cy="1676.8" r="6.5" fill="#f30370"/><circle cx="618.2" cy="1677.1" r="6.5" fill="#d10694"/><circle cx="826.1" cy="1699.0" r="6.5" fill="#2878f3"/><circle cx="760.6" cy="1682.2" r="6.5" fill="#1380f6"/><circle cx="779.0" cy="1658.1" r="6.5" fill="#207bf4"/><circle cx="790.3" cy="1649.4" r="6.5" fill="#0a84f5"/><circle cx="753.4" cy="1682.1" r="6.5" fill="#4669ed"/><circle cx="814.4" cy="1662.2" r="6.5" fill="#2678f3"/><circle cx="818.8" cy="1697.9" r="6.5" fill="#1f7cf4"/><circle cx="796.6" cy="1670.9" r="6.5" fill="#0a84f5"/><circle cx="743.0" cy="1709.0" r="6.5" fill="#3c6fef"/><circle cx="746.7" cy="1693.4" r="6.5" fill="#3174f1"/><circle cx="797.0" cy="1687.4" r="6.5" fill="#0a84f5"/><circle cx="771.8" cy="1660.1" r="6.5" fill="#3074f2"/><circle cx="804.1" cy="1713.3" r="6.5" fill="#0a84f5"/><circle cx="832.9" cy="1661.5" r="6.5" fill="#217bf4"/><circle cx="886.4" cy="1675.8" r="6.5" fill="#0a84f5"/><circle cx="804.1" cy="1639.5" r="6.5" fill="#1281f6"/><circle cx="738.9" cy="1654.7" r="6.5" fill="#1480f6"/><circle cx="836.0" cy="1668.8" r="6.5" fill="#227af4"/><circle cx="826.3" cy="1671.2" r="6.5" fill="#0c83f5"/><circle cx="797.0" cy="1654.4" r="6.5" fill="#0a84f5"/><circle cx="833.1" cy="1677.0" r="6.5" fill="#0b84f5"/><circle cx="782.8" cy="1687.2" r="6.5" fill="#0a84f5"/><circle cx="814.7" cy="1712.1" r="6.5" fill="#0a84f5"/><circle cx="792.8" cy="1700.9" r="6.5" fill="#0c83f5"/><circle cx="753.7" cy="1687.0" r="6.5" fill="#456aed"/><circle cx="832.9" cy="1691.3" r="6.5" fill="#0a84f5"/><circle cx="775.4" cy="1692.8" r="6.5" fill="#0a84f5"/><circle cx="868.9" cy="1673.8" r="6.5" fill="#0e82f5"/><circle cx="879.7" cy="1674.4" r="6.5" fill="#0a84f5"/><circle cx="807.6" cy="1646.3" r="6.5" fill="#0a84f5"/><circle cx="965.8" cy="1676.4" r="6.5" fill="#0f82f5"/><circle cx="750.1" cy="1651.9" r="6.5" fill="#426cee"/><circle cx="801.1" cy="1700.6" r="6.5" fill="#1082f6"/><circle cx="869.5" cy="1675.8" r="6.5" fill="#0e82f5"/><circle cx="840.1" cy="1676.3" r="6.5" fill="#0a84f5"/><circle cx="797.3" cy="1648.9" r="6.5" fill="#0a84f5"/><circle cx="865.3" cy="1679.2" r="6.5" fill="#2579f3"/><circle cx="749.7" cy="1673.0" r="6.5" fill="#0b84f5"/><circle cx="987.6" cy="1676.0" r="6.5" fill="#2a77f2"/><circle cx="962.3" cy="1676.4" r="6.5" fill="#0a84f5"/><circle cx="768.2" cy="1671.4" r="6.5" fill="#1380f6"/><circle cx="790.1" cy="1660.0" r="6.5" fill="#0a84f5"/><circle cx="832.6" cy="1682.6" r="6.5" fill="#1181f6"/><circle cx="800.5" cy="1712.5" r="6.5" fill="#0e82f5"/><circle cx="728.6" cy="1660.7" r="6.5" fill="#2479f3"/><circle cx="779.1" cy="1690.0" r="6.5" fill="#2b76f2"/><circle cx="814.9" cy="1712.5" r="6.5" fill="#0a84f5"/><circle cx="980.8" cy="1676.4" r="6.5" fill="#0a84f5"/><circle cx="796.9" cy="1710.7" r="6.5" fill="#0a84f5"/><circle cx="804.4" cy="1681.3" r="6.5" fill="#1b7df5"/><circle cx="732.2" cy="1699.3" r="6.5" fill="#177ff5"/><circle cx="854.5" cy="1679.7" r="6.5" fill="#0a84f5"/><circle cx="829.2" cy="1662.3" r="6.5" fill="#0a84f5"/><circle cx="825.7" cy="1651.7" r="6.5" fill="#187ff5"/><circle cx="843.7" cy="1682.7" r="6.5" fill="#0e83f5"/><circle cx="782.9" cy="1693.1" r="6.5" fill="#1181f6"/><circle cx="825.9" cy="1676.2" r="6.5" fill="#0a84f5"/><circle cx="757.8" cy="1673.9" r="6.5" fill="#0a84f5"/><circle cx="785.6" cy="1679.3" r="6.5" fill="#0a84f5"/><circle cx="829.7" cy="1684.6" r="6.5" fill="#0a84f5"/><circle cx="872.5" cy="1675.9" r="6.5" fill="#0e82f5"/><circle cx="818.2" cy="1671.4" r="6.5" fill="#1181f6"/><circle cx="804.1" cy="1670.7" r="6.5" fill="#0a84f5"/><circle cx="761.2" cy="1687.8" r="6.5" fill="#2a77f3"/><circle cx="810.8" cy="1655.0" r="6.5" fill="#0a84f5"/><circle cx="736.2" cy="1674.1" r="6.5" fill="#0c83f5"/><circle cx="768.2" cy="1660.1" r="6.5" fill="#0a84f5"/><circle cx="811.8" cy="1682.4" r="6.5" fill="#0e82f5"/><circle cx="807.2" cy="1673.1" r="6.5" fill="#0a84f5"/><circle cx="768.6" cy="1682.0" r="6.5" fill="#0a84f5"/><circle cx="801.1" cy="1711.9" r="6.5" fill="#0f82f5"/><circle cx="941.3" cy="1676.1" r="6.5" fill="#0e82f5"/><circle cx="775.2" cy="1681.9" r="6.5" fill="#0e82f5"/><circle cx="843.6" cy="1679.0" r="6.5" fill="#2977f3"/><circle cx="811.8" cy="1693.1" r="6.5" fill="#0e82f5"/><circle cx="861.7" cy="1679.3" r="6.5" fill="#187ef5"/><circle cx="786.2" cy="1651.6" r="6.5" fill="#0a84f5"/><circle cx="793.4" cy="1684.7" r="6.5" fill="#0a84f5"/><circle cx="879.7" cy="1678.4" r="6.5" fill="#0a84f5"/><circle cx="844.3" cy="1674.3" r="6.5" fill="#0a84f5"/><circle cx="850.5" cy="1677.1" r="6.5" fill="#217bf4"/><circle cx="742.9" cy="1679.0" r="6.5" fill="#1e7cf4"/><circle cx="804.4" cy="1654.6" r="6.5" fill="#227af4"/><circle cx="814.9" cy="1640.3" r="6.5" fill="#1081f6"/><circle cx="735.8" cy="1704.6" r="6.5" fill="#0d83f5"/><circle cx="976.7" cy="1676.0" r="6.5" fill="#1381f6"/><circle cx="732.4" cy="1687.2" r="6.5" fill="#1480f6"/><circle cx="800.3" cy="1690.6" r="6.5" fill="#0f82f5"/><circle cx="861.7" cy="1673.5" r="6.5" fill="#0a84f5"/><circle cx="756.9" cy="1678.6" r="6.5" fill="#3473f1"/><circle cx="775.2" cy="1659.6" r="6.5" fill="#1480f6"/><circle cx="826.1" cy="1692.7" r="6.5" fill="#0a84f5"/><circle cx="814.9" cy="1651.7" r="6.5" fill="#1082f6"/><circle cx="739.4" cy="1687.2" r="6.5" fill="#4868ec"/><circle cx="908.4" cy="1676.2" r="6.5" fill="#0a84f5"/><circle cx="796.4" cy="1659.9" r="6.5" fill="#1480f6"/><circle cx="735.4" cy="1657.1" r="6.5" fill="#177ff6"/><circle cx="944.5" cy="1675.7" r="6.5" fill="#0a84f5"/><circle cx="771.5" cy="1667.5" r="6.5" fill="#0a84f5"/><circle cx="829.0" cy="1673.1" r="6.5" fill="#1480f6"/><circle cx="725.0" cy="1676.7" r="6.5" fill="#3f6def"/><circle cx="807.5" cy="1690.5" r="6.5" fill="#0a84f5"/><circle cx="807.7" cy="1638.7" r="6.5" fill="#0a84f5"/><circle cx="797.4" cy="1703.9" r="6.5" fill="#0d83f5"/><circle cx="746.6" cy="1660.6" r="6.5" fill="#4c66ec"/><circle cx="775.0" cy="1677.1" r="6.5" fill="#1181f6"/><circle cx="746.8" cy="1697.9" r="6.5" fill="#1d7cf5"/><circle cx="753.8" cy="1651.3" r="6.5" fill="#0c83f5"/><circle cx="1001.8" cy="1675.7" r="6.5" fill="#0a84f5"/><circle cx="815.5" cy="1690.1" r="6.5" fill="#2b76f2"/><circle cx="818.0" cy="1649.3" r="6.5" fill="#1c7df5"/><circle cx="811.6" cy="1665.0" r="6.5" fill="#0b84f5"/><circle cx="868.9" cy="1679.0" r="6.5" fill="#1281f6"/><circle cx="893.7" cy="1675.9" r="6.5" fill="#1380f6"/><circle cx="764.4" cy="1684.2" r="6.5" fill="#0f82f6"/><circle cx="739.1" cy="1670.8" r="6.5" fill="#0b84f5"/><circle cx="800.6" cy="1663.2" r="6.5" fill="#0a84f5"/><circle cx="811.3" cy="1713.7" r="6.5" fill="#0a84f5"/><circle cx="757.1" cy="1685.2" r="6.5" fill="#3672f1"/><circle cx="750.2" cy="1646.5" r="6.5" fill="#227af4"/><circle cx="815.3" cy="1701.0" r="6.5" fill="#0a84f5"/><circle cx="876.1" cy="1674.2" r="6.5" fill="#0a84f5"/><circle cx="786.0" cy="1663.0" r="6.5" fill="#0a84f5"/><circle cx="732.6" cy="1660.4" r="6.5" fill="#3971f0"/><circle cx="829.9" cy="1695.3" r="6.5" fill="#0a84f5"/><circle cx="905.0" cy="1675.8" r="6.5" fill="#0d83f5"/><circle cx="768.0" cy="1676.9" r="6.5" fill="#0a84f5"/><circle cx="800.6" cy="1668.7" r="6.5" fill="#0d83f5"/><circle cx="800.3" cy="1678.7" r="6.5" fill="#0a84f5"/><circle cx="865.3" cy="1673.6" r="6.5" fill="#0a84f5"/><circle cx="746.6" cy="1644.4" r="6.5" fill="#0a84f5"/><circle cx="767.8" cy="1665.8" r="6.5" fill="#3871f0"/><circle cx="890.4" cy="1676.0" r="6.5" fill="#0c83f5"/><circle cx="803.6" cy="1709.5" r="6.5" fill="#0a84f5"/><circle cx="818.5" cy="1642.7" r="6.5" fill="#0a84f5"/><circle cx="875.8" cy="1675.9" r="6.5" fill="#0a84f5"/><circle cx="822.1" cy="1673.1" r="6.5" fill="#1a7df5"/><circle cx="880.1" cy="1676.5" r="6.5" fill="#0d83f5"/><circle cx="897.7" cy="1677.0" r="6.5" fill="#0a84f5"/><circle cx="779.0" cy="1694.7" r="6.5" fill="#0a84f5"/><circle cx="735.5" cy="1667.6" r="6.5" fill="#1081f6"/><circle cx="858.1" cy="1673.3" r="6.5" fill="#0a84f5"/><circle cx="796.9" cy="1681.8" r="6.5" fill="#0e82f5"/><circle cx="786.6" cy="1695.0" r="6.5" fill="#0a84f5"/><circle cx="797.3" cy="1692.7" r="6.5" fill="#0a84f5"/><circle cx="818.7" cy="1665.9" r="6.5" fill="#0a84f5"/><circle cx="808.3" cy="1663.0" r="6.5" fill="#1181f6"/><circle cx="800.9" cy="1706.9" r="6.5" fill="#0a84f5"/><circle cx="991.2" cy="1677.0" r="6.5" fill="#0a84f5"/><circle cx="732.2" cy="1681.9" r="6.5" fill="#5561e9"/><circle cx="750.1" cy="1695.9" r="6.5" fill="#1181f6"/><circle cx="757.4" cy="1697.9" r="6.5" fill="#0a84f5"/><circle cx="793.6" cy="1690.1" r="6.5" fill="#0d83f5"/><circle cx="785.6" cy="1690.8" r="6.5" fill="#0a84f5"/><circle cx="818.8" cy="1676.6" r="6.5" fill="#2878f3"/><circle cx="998.8" cy="1676.8" r="6.5" fill="#0a84f5"/><circle cx="828.9" cy="1668.1" r="6.5" fill="#0a84f5"/><circle cx="796.9" cy="1642.1" r="6.5" fill="#0a84f5"/><circle cx="858.7" cy="1676.0" r="6.5" fill="#0a84f5"/><circle cx="790.1" cy="1676.3" r="6.5" fill="#0b84f5"/><circle cx="850.9" cy="1672.9" r="6.5" fill="#1082f6"/><circle cx="761.4" cy="1675.7" r="6.5" fill="#1b7df5"/><circle cx="789.4" cy="1671.2" r="6.5" fill="#0a84f5"/><circle cx="793.0" cy="1662.4" r="6.5" fill="#1380f6"/><circle cx="728.8" cy="1684.0" r="6.5" fill="#2a77f2"/><circle cx="804.2" cy="1677.0" r="6.5" fill="#0b84f5"/><circle cx="811.6" cy="1710.0" r="6.5" fill="#1082f6"/><circle cx="804.2" cy="1697.9" r="6.5" fill="#0d83f5"/><circle cx="739.4" cy="1644.9" r="6.5" fill="#237af4"/><circle cx="919.3" cy="1676.8" r="6.5" fill="#0a84f5"/><circle cx="768.2" cy="1692.7" r="6.5" fill="#1281f6"/><circle cx="775.4" cy="1659.4" r="6.5" fill="#0a84f5"/><circle cx="750.1" cy="1689.6" r="6.5" fill="#426bee"/><circle cx="883.6" cy="1676.6" r="6.5" fill="#0a84f5"/><circle cx="829.4" cy="1679.5" r="6.5" fill="#0c83f5"/><circle cx="728.6" cy="1692.1" r="6.5" fill="#4a67ec"/><circle cx="822.5" cy="1651.4" r="6.5" fill="#0a84f5"/><circle cx="725.0" cy="1678.9" r="6.5" fill="#6a53e1"/><circle cx="840.1" cy="1684.9" r="6.5" fill="#0a84f5"/><circle cx="739.4" cy="1677.1" r="6.5" fill="#0a84f5"/><circle cx="815.2" cy="1673.6" r="6.5" fill="#187ef5"/><circle cx="786.1" cy="1700.7" r="6.5" fill="#0e82f5"/><circle cx="746.9" cy="1688.0" r="6.5" fill="#0a84f5"/><circle cx="747.1" cy="1648.6" r="6.5" fill="#0c83f5"/><circle cx="796.9" cy="1664.7" r="6.5" fill="#0c83f5"/><circle cx="800.5" cy="1657.2" r="6.5" fill="#0a84f5"/><circle cx="758.0" cy="1668.0" r="6.5" fill="#0a84f5"/><circle cx="779.4" cy="1662.6" r="6.5" fill="#0e82f5"/><circle cx="826.0" cy="1687.9" r="6.5" fill="#0a84f5"/><circle cx="742.4" cy="1667.8" r="6.5" fill="#4e65eb"/><circle cx="793.1" cy="1668.6" r="6.5" fill="#0a84f5"/><circle cx="753.4" cy="1654.7" r="6.5" fill="#3b6ff0"/><circle cx="800.4" cy="1646.7" r="6.5" fill="#0a84f5"/><circle cx="750.7" cy="1657.3" r="6.5" fill="#5163ea"/><circle cx="735.3" cy="1684.3" r="6.5" fill="#1b7df5"/><circle cx="793.4" cy="1644.1" r="6.5" fill="#1281f6"/><circle cx="825.7" cy="1701.1" r="6.5" fill="#1281f6"/><circle cx="764.3" cy="1667.8" r="6.5" fill="#207bf4"/><circle cx="822.1" cy="1663.3" r="6.5" fill="#187ef5"/><circle cx="994.3" cy="1675.9" r="6.5" fill="#0a84f5"/><circle cx="832.9" cy="1665.9" r="6.5" fill="#1381f6"/><circle cx="790.3" cy="1698.7" r="6.5" fill="#1082f6"/><circle cx="804.7" cy="1644.0" r="6.5" fill="#1f7bf4"/><circle cx="757.4" cy="1654.9" r="6.5" fill="#0d83f5"/><circle cx="746.9" cy="1676.4" r="6.5" fill="#0d83f5"/><circle cx="779.1" cy="1668.8" r="6.5" fill="#0a84f5"/><circle cx="743.0" cy="1696.0" r="6.5" fill="#446aed"/><circle cx="764.6" cy="1689.9" r="6.5" fill="#0a84f5"/><circle cx="742.8" cy="1700.7" r="6.5" fill="#1580f6"/><circle cx="797.3" cy="1676.1" r="6.5" fill="#1380f6"/><circle cx="782.4" cy="1664.9" r="6.5" fill="#0b84f5"/><circle cx="760.9" cy="1692.4" r="6.5" fill="#1181f6"/><circle cx="814.7" cy="1684.2" r="6.5" fill="#0a84f5"/><circle cx="764.6" cy="1693.4" r="6.5" fill="#2c76f2"/><circle cx="761.5" cy="1665.4" r="6.5" fill="#3f6def"/><circle cx="861.6" cy="1676.1" r="6.5" fill="#0c83f5"/><circle cx="743.5" cy="1662.0" r="6.5" fill="#0f82f6"/><circle cx="807.7" cy="1714.1" r="6.5" fill="#0a84f5"/><circle cx="743.2" cy="1690.7" r="6.5" fill="#0c83f5"/><circle cx="732.6" cy="1653.9" r="6.5" fill="#2479f4"/><circle cx="753.4" cy="1698.5" r="6.5" fill="#0c83f5"/><circle cx="793.4" cy="1708.7" r="6.5" fill="#0a84f5"/><circle cx="789.8" cy="1705.3" r="6.5" fill="#0a84f5"/><circle cx="984.1" cy="1676.1" r="6.5" fill="#1181f6"/><circle cx="743.1" cy="1684.2" r="6.5" fill="#4c66ec"/><circle cx="768.1" cy="1687.7" r="6.5" fill="#1a7ef5"/><circle cx="836.7" cy="1687.5" r="6.5" fill="#0a84f5"/><circle cx="793.1" cy="1679.2" r="6.5" fill="#1181f6"/><circle cx="750.2" cy="1706.3" r="6.5" fill="#0e82f5"/><circle cx="815.0" cy="1695.0" r="6.5" fill="#0c83f5"/><circle cx="801.0" cy="1651.0" r="6.5" fill="#0a84f5"/><circle cx="786.1" cy="1667.8" r="6.5" fill="#0a84f5"/><circle cx="825.9" cy="1665.0" r="6.5" fill="#1281f6"/><circle cx="822.4" cy="1668.0" r="6.5" fill="#2479f4"/><circle cx="872.5" cy="1674.0" r="6.5" fill="#1381f6"/><circle cx="840.1" cy="1667.9" r="6.5" fill="#0a84f5"/><circle cx="800.5" cy="1640.3" r="6.5" fill="#0b84f5"/><circle cx="746.6" cy="1708.4" r="6.5" fill="#0a84f5"/><circle cx="818.4" cy="1693.3" r="6.5" fill="#0a84f5"/><circle cx="735.6" cy="1662.8" r="6.5" fill="#1d7cf5"/><circle cx="847.6" cy="1676.1" r="6.5" fill="#0a84f5"/><circle cx="772.3" cy="1689.6" r="6.5" fill="#1a7ef5"/><circle cx="844.2" cy="1682.7" r="6.5" fill="#0a84f5"/><circle cx="735.8" cy="1648.2" r="6.5" fill="#4769ed"/><circle cx="757.5" cy="1695.4" r="6.5" fill="#187ef5"/><circle cx="783.0" cy="1671.5" r="6.5" fill="#2778f3"/><circle cx="822.1" cy="1646.8" r="6.5" fill="#2679f3"/><circle cx="789.3" cy="1687.0" r="6.5" fill="#0e82f5"/><circle cx="789.7" cy="1665.9" r="6.5" fill="#0c83f5"/><circle cx="821.7" cy="1700.6" r="6.5" fill="#0b83f5"/><circle cx="736.2" cy="1690.6" r="6.5" fill="#0d83f5"/><circle cx="731.7" cy="1677.1" r="6.5" fill="#446bee"/><circle cx="923.3" cy="1676.4" r="6.5" fill="#0d83f5"/><circle cx="847.3" cy="1681.3" r="6.5" fill="#0a84f5"/><circle cx="912.3" cy="1676.2" r="6.5" fill="#0a84f5"/><circle cx="771.8" cy="1692.7" r="6.5" fill="#227af4"/><circle cx="743.0" cy="1643.8" r="6.5" fill="#0f82f5"/><circle cx="839.7" cy="1682.0" r="6.5" fill="#0c83f5"/><circle cx="796.4" cy="1709.1" r="6.5" fill="#0e82f5"/><circle cx="729.0" cy="1667.6" r="6.5" fill="#5a5ee8"/><circle cx="789.2" cy="1682.3" r="6.5" fill="#1a7ef5"/><circle cx="729.2" cy="1689.9" r="6.5" fill="#1181f6"/><circle cx="761.0" cy="1694.8" r="6.5" fill="#1181f6"/><circle cx="739.3" cy="1698.7" r="6.5" fill="#5860e9"/><circle cx="833.5" cy="1687.9" r="6.5" fill="#2778f3"/><circle cx="800.2" cy="1685.1" r="6.5" fill="#0a84f5"/><circle cx="764.2" cy="1673.4" r="6.5" fill="#217af4"/><circle cx="746.8" cy="1703.4" r="6.5" fill="#0a84f5"/><circle cx="750.2" cy="1684.6" r="6.5" fill="#0c83f5"/><circle cx="818.6" cy="1654.8" r="6.5" fill="#0e82f5"/><circle cx="789.5" cy="1703.2" r="6.5" fill="#2977f3"/><circle cx="810.7" cy="1649.2" r="6.5" fill="#0a84f5"/><circle cx="746.6" cy="1670.7" r="6.5" fill="#595fe8"/><circle cx="872.5" cy="1678.8" r="6.5" fill="#0a84f5"/><circle cx="728.9" cy="1674.0" r="6.5" fill="#5b5ee8"/><circle cx="739.1" cy="1665.5" r="6.5" fill="#1281f6"/><circle cx="753.4" cy="1660.0" r="6.5" fill="#0a84f5"/><circle cx="786.0" cy="1684.5" r="6.5" fill="#0a84f5"/><circle cx="796.4" cy="1698.9" r="6.5" fill="#1e7cf4"/><circle cx="753.2" cy="1693.1" r="6.5" fill="#3174f1"/><circle cx="782.5" cy="1682.5" r="6.5" fill="#0a84f5"/><circle cx="819.1" cy="1682.3" r="6.5" fill="#0a84f5"/><circle cx="814.7" cy="1679.1" r="6.5" fill="#0a84f5"/><circle cx="836.9" cy="1679.4" r="6.5" fill="#2679f3"/><circle cx="782.6" cy="1697.8" r="6.5" fill="#0a84f5"/><circle cx="739.8" cy="1681.5" r="6.5" fill="#595fe8"/><circle cx="756.8" cy="1689.7" r="6.5" fill="#3274f1"/><circle cx="735.5" cy="1679.2" r="6.5" fill="#1b7df5"/><circle cx="811.3" cy="1639.1" r="6.5" fill="#217af4"/><circle cx="779.0" cy="1685.3" r="6.5" fill="#0d83f5"/><circle cx="814.6" cy="1706.4" r="6.5" fill="#1281f6"/><circle cx="764.6" cy="1659.4" r="6.5" fill="#207bf4"/><circle cx="731.6" cy="1698.9" r="6.5" fill="#0d83f5"/><circle cx="804.1" cy="1660.3" r="6.5" fill="#2977f3"/><circle cx="753.8" cy="1701.5" r="6.5" fill="#2479f4"/><circle cx="814.7" cy="1656.8" r="6.5" fill="#1082f6"/><circle cx="822.1" cy="1706.0" r="6.5" fill="#0a84f5"/><circle cx="822.6" cy="1656.9" r="6.5" fill="#207bf4"/><circle cx="836.5" cy="1665.1" r="6.5" fill="#0a84f5"/><circle cx="915.5" cy="1676.7" r="6.5" fill="#0d83f5"/><circle cx="854.8" cy="1676.4" r="6.5" fill="#187ef5"/><circle cx="807.4" cy="1668.1" r="6.5" fill="#0a84f5"/><circle cx="750.3" cy="1662.7" r="6.5" fill="#0a84f5"/><circle cx="786.2" cy="1701.2" r="6.5" fill="#1281f6"/><circle cx="811.2" cy="1698.0" r="6.5" fill="#0a84f5"/><circle cx="731.9" cy="1664.8" r="6.5" fill="#1580f6"/><circle cx="876.1" cy="1678.6" r="6.5" fill="#0a84f5"/><circle cx="936.9" cy="1676.6" r="6.5" fill="#0a84f5"/><circle cx="739.4" cy="1692.3" r="6.5" fill="#2c76f2"/><circle cx="789.5" cy="1692.2" r="6.5" fill="#0a84f5"/><circle cx="775.5" cy="1666.1" r="6.5" fill="#187ef5"/><circle cx="732.8" cy="1692.6" r="6.5" fill="#0a84f5"/><circle cx="811.9" cy="1643.4" r="6.5" fill="#1380f6"/><circle cx="746.7" cy="1665.6" r="6.5" fill="#227af4"/><circle cx="843.7" cy="1670.1" r="6.5" fill="#0e82f5"/><circle cx="804.3" cy="1665.6" r="6.5" fill="#0d83f5"/><circle cx="793.7" cy="1695.6" r="6.5" fill="#0d83f5"/><circle cx="739.1" cy="1703.3" r="6.5" fill="#167ff6"/><circle cx="736.3" cy="1701.7" r="6.5" fill="#4968ec"/><circle cx="750.0" cy="1667.6" r="6.5" fill="#3871f0"/><circle cx="793.7" cy="1651.4" r="6.5" fill="#0a84f5"/><circle cx="785.6" cy="1657.3" r="6.5" fill="#0a84f5"/><circle cx="821.7" cy="1678.7" r="6.5" fill="#0a84f5"/><circle cx="818.9" cy="1643.1" r="6.5" fill="#2b76f2"/><circle cx="772.1" cy="1673.2" r="6.5" fill="#0e82f5"/><circle cx="775.4" cy="1693.4" r="6.5" fill="#0a84f5"/><circle cx="753.8" cy="1664.7" r="6.5" fill="#3a70f0"/><circle cx="743.6" cy="1673.8" r="6.5" fill="#2678f3"/><circle cx="926.0" cy="1676.3" r="6.5" fill="#2678f3"/><circle cx="775.9" cy="1687.0" r="6.5" fill="#0a84f5"/><circle cx="811.6" cy="1659.4" r="6.5" fill="#0c83f5"/><circle cx="774.8" cy="1671.0" r="6.5" fill="#0a84f5"/><circle cx="948.2" cy="1676.5" r="6.5" fill="#0a84f5"/><circle cx="835.9" cy="1684.6" r="6.5" fill="#1a7ef5"/><circle cx="743.4" cy="1657.6" r="6.5" fill="#1380f6"/><circle cx="811.8" cy="1670.7" r="6.5" fill="#0a84f5"/><circle cx="753.2" cy="1671.2" r="6.5" fill="#3771f1"/><circle cx="749.8" cy="1678.9" r="6.5" fill="#456aed"/><circle cx="829.3" cy="1695.5" r="6.5" fill="#0a84f5"/><circle cx="782.2" cy="1659.4" r="6.5" fill="#0a84f5"/><circle cx="807.3" cy="1701.1" r="6.5" fill="#0a84f5"/><circle cx="778.8" cy="1679.1" r="6.5" fill="#2977f3"/><circle cx="807.6" cy="1656.9" r="6.5" fill="#1082f6"/><circle cx="731.8" cy="1671.5" r="6.5" fill="#0b84f5"/><circle cx="858.1" cy="1679.5" r="6.5" fill="#0c83f5"/><circle cx="746.1" cy="1681.7" r="6.5" fill="#1c7df5"/><circle cx="779.1" cy="1673.9" r="6.5" fill="#1181f6"/><circle cx="735.4" cy="1695.9" r="6.5" fill="#0a84f5"/><circle cx="739.2" cy="1648.6" r="6.5" fill="#0a84f5"/><circle cx="739.4" cy="1707.9" r="6.5" fill="#595fe8"/><circle cx="825.2" cy="1654.7" r="6.5" fill="#0a84f5"/><circle cx="828.7" cy="1690.0" r="6.5" fill="#0a84f5"/><circle cx="818.5" cy="1687.4" r="6.5" fill="#1281f6"/><circle cx="901.2" cy="1676.7" r="6.5" fill="#0a84f5"/><circle cx="750.8" cy="1706.4" r="6.5" fill="#3672f1"/><circle cx="808.0" cy="1652.1" r="6.5" fill="#0a84f5"/><circle cx="951.4" cy="1676.7" r="6.5" fill="#2878f3"/><circle cx="764.3" cy="1662.1" r="6.5" fill="#3672f1"/><circle cx="818.8" cy="1703.4" r="6.5" fill="#0a84f5"/><circle cx="793.5" cy="1674.2" r="6.5" fill="#0a84f5"/><circle cx="764.6" cy="1679.7" r="6.5" fill="#1181f6"/><circle cx="732.2" cy="1653.5" r="6.5" fill="#2c76f2"/><circle cx="761.1" cy="1671.2" r="6.5" fill="#1d7cf5"/><circle cx="738.9" cy="1660.0" r="6.5" fill="#436bee"/><circle cx="969.2" cy="1676.1" r="6.5" fill="#0a84f5"/><circle cx="832.7" cy="1670.8" r="6.5" fill="#227af4"/><circle cx="771.4" cy="1678.9" r="6.5" fill="#1181f6"/><circle cx="800.4" cy="1673.9" r="6.5" fill="#0b84f5"/><circle cx="973.2" cy="1676.5" r="6.5" fill="#0a84f5"/><circle cx="771.7" cy="1684.7" r="6.5" fill="#0a84f5"/><circle cx="807.7" cy="1711.5" r="6.5" fill="#0c83f5"/><circle cx="825.3" cy="1659.6" r="6.5" fill="#0a84f5"/><circle cx="807.6" cy="1706.6" r="6.5" fill="#0a84f5"/><circle cx="750.0" cy="1700.7" r="6.5" fill="#0c83f5"/><circle cx="822.1" cy="1685.2" r="6.5" fill="#0a84f5"/><circle cx="822.6" cy="1689.5" r="6.5" fill="#0a84f5"/><circle cx="800.6" cy="1696.1" r="6.5" fill="#0a84f5"/><circle cx="822.4" cy="1695.9" r="6.5" fill="#227af4"/><circle cx="815.0" cy="1646.4" r="6.5" fill="#0a84f5"/><circle cx="742.7" cy="1651.6" r="6.5" fill="#1181f6"/><circle cx="786.5" cy="1673.6" r="6.5" fill="#0a84f5"/><circle cx="793.8" cy="1706.5" r="6.5" fill="#187ef5"/><circle cx="958.8" cy="1676.1" r="6.5" fill="#2479f3"/><circle cx="742.9" cy="1706.6" r="6.5" fill="#0a84f5"/><circle cx="789.2" cy="1653.7" r="6.5" fill="#1e7cf4"/><circle cx="804.0" cy="1687.4" r="6.5" fill="#2a77f3"/><circle cx="850.9" cy="1679.9" r="6.5" fill="#2579f3"/><circle cx="836.7" cy="1674.3" r="6.5" fill="#0a84f5"/><circle cx="807.4" cy="1684.2" r="6.5" fill="#0f82f6"/><circle cx="797.0" cy="1643.1" r="6.5" fill="#1181f6"/><circle cx="822.7" cy="1706.3" r="6.5" fill="#1480f6"/><circle cx="753.9" cy="1676.0" r="6.5" fill="#0a84f5"/><circle cx="761.5" cy="1659.2" r="6.5" fill="#0d83f5"/><circle cx="782.6" cy="1655.0" r="6.5" fill="#0a84f5"/><circle cx="725.0" cy="1673.9" r="6.5" fill="#7748d8"/><circle cx="807.6" cy="1678.8" r="6.5" fill="#0a84f5"/><circle cx="826.0" cy="1682.2" r="6.5" fill="#0a84f5"/><circle cx="933.9" cy="1677.0" r="6.5" fill="#0e82f5"/><circle cx="847.3" cy="1671.5" r="6.5" fill="#0a84f5"/><circle cx="761.0" cy="1658.0" r="6.5" fill="#1181f6"/><circle cx="782.9" cy="1677.0" r="6.5" fill="#0a84f5"/><circle cx="818.0" cy="1660.5" r="6.5" fill="#0a84f5"/><circle cx="807.4" cy="1696.2" r="6.5" fill="#0a84f5"/><circle cx="735.2" cy="1705.2" r="6.5" fill="#0e83f5"/><circle cx="756.9" cy="1662.8" r="6.5" fill="#0c83f5"/><circle cx="764.5" cy="1692.9" r="6.5" fill="#0a84f5"/><circle cx="778.8" cy="1694.6" r="6.5" fill="#0a84f5"/><circle cx="811.7" cy="1687.9" r="6.5" fill="#1181f6"/><circle cx="789.8" cy="1647.5" r="6.5" fill="#0a84f5"/><circle cx="811.6" cy="1703.7" r="6.5" fill="#1082f6"/><circle cx="804.4" cy="1648.5" r="6.5" fill="#0a84f5"/><circle cx="815.1" cy="1668.2" r="6.5" fill="#1b7df5"/><circle cx="829.3" cy="1657.3" r="6.5" fill="#0a84f5"/><circle cx="818.7" cy="1709.3" r="6.5" fill="#1c7cf5"/><circle cx="803.9" cy="1704.0" r="6.5" fill="#0a84f5"/><circle cx="836.5" cy="1687.7" r="6.5" fill="#0f82f5"/><circle cx="728.6" cy="1679.1" r="6.5" fill="#1480f6"/><circle cx="865.8" cy="1676.1" r="6.5" fill="#0a84f5"/><circle cx="804.0" cy="1692.5" r="6.5" fill="#1b7df5"/><circle cx="840.3" cy="1671.0" r="6.5" fill="#2a77f3"/><circle cx="792.8" cy="1657.6" r="6.5" fill="#187ef5"/><circle cx="854.5" cy="1673.1" r="6.5" fill="#0a84f5"/><circle cx="746.9" cy="1654.9" r="6.5" fill="#1082f6"/><circle cx="810.8" cy="1676.7" r="6.5" fill="#0f82f6"/><circle cx="818.5" cy="1710.1" r="6.5" fill="#1480f6"/><circle cx="735.8" cy="1652.2" r="6.5" fill="#1082f6"/><circle cx="955.6" cy="1676.7" r="6.5" fill="#0c83f5"/><circle cx="929.5" cy="1676.6" r="6.5" fill="#0a84f5"/><circle cx="1034.0" cy="1676.0" r="6.5" fill="#0b84f5"/><circle cx="1089.2" cy="1676.6" r="6.5" fill="#0b84f5"/><circle cx="1074.9" cy="1676.9" r="6.5" fill="#0a84f5"/><circle cx="1049.3" cy="1676.2" r="6.5" fill="#0a84f5"/><circle cx="1023.5" cy="1675.9" r="6.5" fill="#0a84f5"/><circle cx="1060.0" cy="1676.9" r="6.5" fill="#0a84f5"/><circle cx="1081.9" cy="1676.6" r="6.5" fill="#0a84f5"/><circle cx="1052.2" cy="1676.1" r="6.5" fill="#0a84f5"/><circle cx="1066.7" cy="1675.8" r="6.5" fill="#0a84f5"/><circle cx="1063.2" cy="1676.6" r="6.5" fill="#0a84f5"/><circle cx="1056.4" cy="1676.3" r="6.5" fill="#0a84f5"/><circle cx="1045.5" cy="1676.7" r="6.5" fill="#0a84f5"/><circle cx="1071.3" cy="1676.8" r="6.5" fill="#0a84f5"/><circle cx="1037.9" cy="1676.2" r="6.5" fill="#0a84f5"/><circle cx="1084.9" cy="1676.2" r="6.5" fill="#0a84f5"/><circle cx="1030.9" cy="1676.3" r="6.5" fill="#0c83f5"/><circle cx="1078.0" cy="1677.1" r="6.5" fill="#0c83f5"/><circle cx="1041.5" cy="1676.8" r="6.5" fill="#0a84f5"/><circle cx="1027.5" cy="1676.6" r="6.5" fill="#0a84f5"/><circle cx="1019.8" cy="1677.0" r="6.5" fill="#0b84f5"/><circle cx="1125.0" cy="1676.4" r="6.5" fill="#0a84f5"/><circle cx="1134.0" cy="1676.4" r="6.5" fill="#0a84f5"/><circle cx="1146.0" cy="1676.4" r="6.5" fill="#0b83f5"/><circle cx="467.5" cy="1784.4" r="6.5" fill="#fe0655"/><circle cx="485.0" cy="1784.4" r="6.5" fill="#fe0655"/><circle cx="493.0" cy="1784.4" r="6.5" fill="#fe0654"/><circle cx="501.0" cy="1784.4" r="6.5" fill="#fe0654"/><circle cx="508.0" cy="1784.4" r="6.5" fill="#fe0654"/><circle cx="525.5" cy="1784.4" r="6.5" fill="#fe0654"/><circle cx="553.0" cy="1784.4" r="6.5" fill="#fe0654"/><circle cx="562.5" cy="1784.4" r="6.5" fill="#fe0655"/><circle cx="603.6" cy="1784.4" r="6.5" fill="#e60282"/><circle cx="683.7" cy="1785.0" r="6.5" fill="#fe0654"/><circle cx="670.1" cy="1784.0" r="6.5" fill="#fe0654"/><circle cx="680.5" cy="1784.0" r="6.5" fill="#fb055d"/><circle cx="672.8" cy="1784.4" r="6.5" fill="#fb055e"/><circle cx="738.2" cy="1785.0" r="6.5" fill="#f90467"/><circle cx="727.8" cy="1784.3" r="6.5" fill="#fe0654"/><circle cx="658.7" cy="1784.0" r="6.5" fill="#fe0654"/><circle cx="723.9" cy="1784.9" r="6.5" fill="#f90465"/><circle cx="676.5" cy="1783.9" r="6.5" fill="#fd0657"/><circle cx="662.1" cy="1783.9" r="6.5" fill="#fe0654"/><circle cx="695.1" cy="1785.1" r="6.5" fill="#fe0654"/><circle cx="709.2" cy="1784.5" r="6.5" fill="#fe0654"/><circle cx="688.2" cy="1783.9" r="6.5" fill="#fc055a"/><circle cx="734.1" cy="1784.6" r="6.5" fill="#fd0657"/><circle cx="698.9" cy="1784.1" r="6.5" fill="#fe0654"/><circle cx="712.9" cy="1783.7" r="6.5" fill="#fd0659"/><circle cx="716.9" cy="1784.7" r="6.5" fill="#fd0659"/><circle cx="730.2" cy="1784.1" r="6.5" fill="#fa0561"/><circle cx="666.8" cy="1784.8" r="6.5" fill="#fe0654"/><circle cx="706.0" cy="1784.8" r="6.5" fill="#fe0654"/><circle cx="720.6" cy="1784.8" r="6.5" fill="#fb055f"/><circle cx="702.6" cy="1785.0" r="6.5" fill="#fe0654"/><circle cx="691.8" cy="1783.7" r="6.5" fill="#fc055b"/><circle cx="757.7" cy="1759.7" r="6.5" fill="#1380f6"/><circle cx="750.3" cy="1782.1" r="6.5" fill="#1381f6"/><circle cx="818.1" cy="1784.3" r="6.5" fill="#0f82f6"/><circle cx="758.0" cy="1764.7" r="6.5" fill="#0a84f5"/><circle cx="744.0" cy="1784.0" r="6.5" fill="#9a27b9"/><circle cx="807.6" cy="1782.2" r="6.5" fill="#217af4"/><circle cx="861.2" cy="1783.8" r="6.5" fill="#157ff6"/><circle cx="743.6" cy="1787.3" r="6.5" fill="#6459e5"/><circle cx="779.1" cy="1789.7" r="6.5" fill="#0b84f5"/><circle cx="768.2" cy="1795.5" r="6.5" fill="#177ff5"/><circle cx="750.7" cy="1776.7" r="6.5" fill="#1380f6"/><circle cx="754.1" cy="1767.3" r="6.5" fill="#1e7cf4"/><circle cx="786.2" cy="1780.6" r="6.5" fill="#5b5ee8"/><circle cx="836.0" cy="1784.6" r="6.5" fill="#1281f6"/><circle cx="761.8" cy="1806.5" r="6.5" fill="#207bf4"/><circle cx="786.2" cy="1788.2" r="6.5" fill="#0f82f6"/><circle cx="864.2" cy="1784.4" r="6.5" fill="#1181f6"/><circle cx="765.3" cy="1803.2" r="6.5" fill="#197ef5"/><circle cx="782.2" cy="1784.3" r="6.5" fill="#3771f0"/><circle cx="811.1" cy="1782.3" r="6.5" fill="#2b76f2"/><circle cx="782.7" cy="1788.8" r="6.5" fill="#5661e9"/><circle cx="754.2" cy="1804.2" r="6.5" fill="#0b84f5"/><circle cx="764.9" cy="1814.0" r="6.5" fill="#1b7df5"/><circle cx="764.9" cy="1781.4" r="6.5" fill="#0a84f5"/><circle cx="789.8" cy="1787.9" r="6.5" fill="#0f82f5"/><circle cx="760.9" cy="1762.7" r="6.5" fill="#0a84f5"/><circle cx="761.3" cy="1746.6" r="6.5" fill="#1d7cf5"/><circle cx="796.9" cy="1787.2" r="6.5" fill="#1480f6"/><circle cx="828.4" cy="1784.5" r="6.5" fill="#3572f1"/><circle cx="814.6" cy="1784.0" r="6.5" fill="#5263ea"/><circle cx="757.6" cy="1782.0" r="6.5" fill="#0a84f5"/><circle cx="850.5" cy="1784.3" r="6.5" fill="#2e75f2"/><circle cx="840.1" cy="1784.4" r="6.5" fill="#416cee"/><circle cx="764.4" cy="1770.7" r="6.5" fill="#1a7ef5"/><circle cx="807.6" cy="1786.6" r="6.5" fill="#217bf4"/><circle cx="800.4" cy="1781.9" r="6.5" fill="#0c83f5"/><circle cx="842.6" cy="1784.2" r="6.5" fill="#2e75f2"/><circle cx="751.2" cy="1786.5" r="6.5" fill="#4d66eb"/><circle cx="804.0" cy="1786.8" r="6.5" fill="#177ff6"/><circle cx="814.7" cy="1782.4" r="6.5" fill="#0d83f5"/><circle cx="747.4" cy="1784.5" r="6.5" fill="#7d44d4"/><circle cx="753.9" cy="1795.7" r="6.5" fill="#0a84f5"/><circle cx="761.3" cy="1778.6" r="6.5" fill="#0c83f5"/><circle cx="764.7" cy="1760.0" r="6.5" fill="#0c83f5"/><circle cx="754.2" cy="1764.6" r="6.5" fill="#0c83f5"/><circle cx="779.4" cy="1784.9" r="6.5" fill="#187ef5"/><circle cx="761.3" cy="1822.2" r="6.5" fill="#0a84f5"/><circle cx="765.5" cy="1793.1" r="6.5" fill="#0b84f5"/><circle cx="757.9" cy="1798.0" r="6.5" fill="#0f82f6"/><circle cx="757.8" cy="1750.3" r="6.5" fill="#0a84f5"/><circle cx="753.8" cy="1778.5" r="6.5" fill="#1c7df5"/><circle cx="757.5" cy="1771.3" r="6.5" fill="#0a84f5"/><circle cx="772.2" cy="1786.7" r="6.5" fill="#217af4"/><circle cx="768.7" cy="1779.1" r="6.5" fill="#0a84f5"/><circle cx="754.1" cy="1790.4" r="6.5" fill="#217bf4"/><circle cx="768.0" cy="1789.6" r="6.5" fill="#0a84f5"/><circle cx="789.8" cy="1780.9" r="6.5" fill="#167ff6"/><circle cx="765.3" cy="1776.6" r="6.5" fill="#0d83f5"/><circle cx="800.4" cy="1786.9" r="6.5" fill="#1281f6"/><circle cx="775.6" cy="1789.9" r="6.5" fill="#1f7bf4"/><circle cx="760.9" cy="1795.7" r="6.5" fill="#0a84f5"/><circle cx="832.9" cy="1785.0" r="6.5" fill="#0b84f5"/><circle cx="764.8" cy="1814.3" r="6.5" fill="#0a84f5"/><circle cx="786.0" cy="1784.4" r="6.5" fill="#2479f4"/><circle cx="782.7" cy="1780.0" r="6.5" fill="#1181f6"/><circle cx="796.4" cy="1784.7" r="6.5" fill="#0d83f5"/><circle cx="757.7" cy="1754.2" r="6.5" fill="#0f82f6"/><circle cx="758.1" cy="1803.2" r="6.5" fill="#0a84f5"/><circle cx="775.2" cy="1784.6" r="6.5" fill="#167ff6"/><circle cx="804.6" cy="1784.2" r="6.5" fill="#0c83f5"/><circle cx="761.5" cy="1773.5" r="6.5" fill="#0a84f5"/><circle cx="740.0" cy="1781.9" r="6.5" fill="#ae17a6"/><circle cx="758.2" cy="1818.5" r="6.5" fill="#0a84f5"/><circle cx="807.6" cy="1784.2" r="6.5" fill="#1380f6"/><circle cx="796.9" cy="1781.6" r="6.5" fill="#2a77f2"/><circle cx="758.2" cy="1776.8" r="6.5" fill="#1082f6"/><circle cx="775.6" cy="1790.7" r="6.5" fill="#2a77f3"/><circle cx="765.1" cy="1809.0" r="6.5" fill="#1181f6"/><circle cx="868.1" cy="1784.3" r="6.5" fill="#3074f2"/><circle cx="857.7" cy="1784.9" r="6.5" fill="#0d83f5"/><circle cx="761.2" cy="1751.3" r="6.5" fill="#0a84f5"/><circle cx="822.2" cy="1784.1" r="6.5" fill="#2479f4"/><circle cx="772.3" cy="1781.5" r="6.5" fill="#0e82f5"/><circle cx="758.3" cy="1787.2" r="6.5" fill="#0e82f5"/><circle cx="750.1" cy="1792.4" r="6.5" fill="#5362ea"/><circle cx="754.5" cy="1801.1" r="6.5" fill="#0a84f5"/><circle cx="761.3" cy="1784.8" r="6.5" fill="#1f7bf4"/><circle cx="775.1" cy="1779.1" r="6.5" fill="#0f82f6"/><circle cx="810.7" cy="1784.4" r="6.5" fill="#2b76f2"/><circle cx="747.1" cy="1787.7" r="6.5" fill="#4e65eb"/><circle cx="761.2" cy="1801.0" r="6.5" fill="#0a84f5"/><circle cx="853.8" cy="1783.9" r="6.5" fill="#426cee"/><circle cx="747.1" cy="1781.1" r="6.5" fill="#5163ea"/><circle cx="750.7" cy="1792.1" r="6.5" fill="#2c76f2"/><circle cx="772.0" cy="1792.9" r="6.5" fill="#0a84f5"/><circle cx="740.0" cy="1786.9" r="6.5" fill="#8e33c5"/><circle cx="761.6" cy="1790.1" r="6.5" fill="#0a84f5"/><circle cx="761.9" cy="1756.9" r="6.5" fill="#0a84f5"/><circle cx="801.0" cy="1784.3" r="6.5" fill="#4c66ec"/><circle cx="804.0" cy="1782.0" r="6.5" fill="#1281f6"/><circle cx="811.1" cy="1786.5" r="6.5" fill="#3c6fef"/><circle cx="753.7" cy="1783.7" r="6.5" fill="#0a84f5"/><circle cx="772.5" cy="1793.2" r="6.5" fill="#0a84f5"/><circle cx="764.8" cy="1787.6" r="6.5" fill="#0c83f5"/><circle cx="772.0" cy="1775.9" r="6.5" fill="#3373f1"/><circle cx="765.0" cy="1798.0" r="6.5" fill="#197ef5"/><circle cx="743.6" cy="1781.5" r="6.5" fill="#a221b1"/><circle cx="768.4" cy="1798.2" r="6.5" fill="#0f82f5"/><circle cx="775.6" cy="1778.1" r="6.5" fill="#3074f2"/><circle cx="739.6" cy="1783.9" r="6.5" fill="#b115a3"/><circle cx="793.3" cy="1781.3" r="6.5" fill="#1281f6"/><circle cx="768.9" cy="1773.4" r="6.5" fill="#0a84f5"/><circle cx="760.8" cy="1811.9" r="6.5" fill="#0a84f5"/><circle cx="757.8" cy="1818.5" r="6.5" fill="#0a84f5"/><circle cx="847.1" cy="1784.4" r="6.5" fill="#3f6def"/><circle cx="757.5" cy="1809.8" r="6.5" fill="#0a84f5"/><circle cx="793.8" cy="1784.3" r="6.5" fill="#2f74f2"/><circle cx="768.5" cy="1784.1" r="6.5" fill="#0f82f5"/><circle cx="793.3" cy="1787.5" r="6.5" fill="#5760e9"/><circle cx="754.2" cy="1773.8" r="6.5" fill="#0a84f5"/><circle cx="764.9" cy="1754.8" r="6.5" fill="#0e83f5"/><circle cx="757.7" cy="1815.3" r="6.5" fill="#1281f6"/><circle cx="764.6" cy="1765.7" r="6.5" fill="#0a84f5"/><circle cx="814.7" cy="1786.4" r="6.5" fill="#1281f6"/><circle cx="761.2" cy="1767.9" r="6.5" fill="#0a84f5"/><circle cx="789.5" cy="1784.6" r="6.5" fill="#187ef5"/><circle cx="758.0" cy="1792.8" r="6.5" fill="#0a84f5"/><circle cx="825.5" cy="1783.9" r="6.5" fill="#167ff6"/><circle cx="761.4" cy="1817.6" r="6.5" fill="#0d83f5"/><circle cx="779.1" cy="1779.1" r="6.5" fill="#2a77f3"/><circle cx="768.4" cy="1770.6" r="6.5" fill="#0f82f5"/><circle cx="747.0" cy="1784.4" r="6.5" fill="#f80469"/><circle cx="851.0" cy="1784.4" r="6.5" fill="#e60282"/><circle cx="915.0" cy="1784.4" r="6.5" fill="#ba109e"/><circle cx="946.6" cy="1784.4" r="6.5" fill="#ba109e"/>
</g>
<line x1="244.7" y1="1894.3" x2="1450.7" y2="1894.3" stroke="#585858" stroke-width="3.2"/>
<line x1="314.7" y1="1894" x2="314.7" y2="1905.5" stroke="#585858" stroke-width="2.8"/>
<text x="309.2" y="1965.6" font-size="40.3" text-anchor="middle" fill="#000">-0.2</text>
<line x1="538.9" y1="1894" x2="538.9" y2="1905.5" stroke="#585858" stroke-width="2.8"/>
<text x="533.4" y="1965.6" font-size="40.3" text-anchor="middle" fill="#000">-0.1</text>
<line x1="763.1" y1="1894" x2="763.1" y2="1905.5" stroke="#585858" stroke-width="2.8"/>
<text x="763.1" y="1965.6" font-size="40.3" text-anchor="middle" fill="#000">0.0</text>
<line x1="987.3" y1="1894" x2="987.3" y2="1905.5" stroke="#585858" stroke-width="2.8"/>
<text x="987.3" y="1965.6" font-size="40.3" text-anchor="middle" fill="#000">0.1</text>
<line x1="1211.5" y1="1894" x2="1211.5" y2="1905.5" stroke="#585858" stroke-width="2.8"/>
<text x="1211.5" y="1965.6" font-size="40.3" text-anchor="middle" fill="#000">0.2</text>
<line x1="1435.7" y1="1894" x2="1435.7" y2="1905.5" stroke="#585858" stroke-width="2.8"/>
<text x="1425.0" y="1965.6" font-size="40.3" text-anchor="middle" fill="#000">0.3</text>
<text x="875.0" y="2039.6" font-size="46.6" text-anchor="middle" fill="#000">SHAP value (impact on model output)</text>
<text x="44.5" y="1484.8" font-size="46.4" fill="#000">GATA3-AS1</text>
<text x="44.5" y="1584.7" font-size="46.4" fill="#000">LINC01488</text>
<text x="44.5" y="1684.6" font-size="46.4" fill="#000">LINC02188</text>
<text x="44.5" y="1785.5" font-size="46.4" fill="#000">LINC00511</text>
<rect x="1523.7" y="1354" width="6" height="536.7" fill="url(#cb)"/>
<text x="1541.5" y="1380.0" font-size="36.6" fill="#000">High</text>
<text x="1542.0" y="1884.1" font-size="36.6" fill="#000">Low</text>
<text x="1582.0" y="1617.0" font-size="40" text-anchor="middle" fill="#000" transform="rotate(-90 1582.0 1617.0)">Feature value</text>
</g>
</svg></body></html>
